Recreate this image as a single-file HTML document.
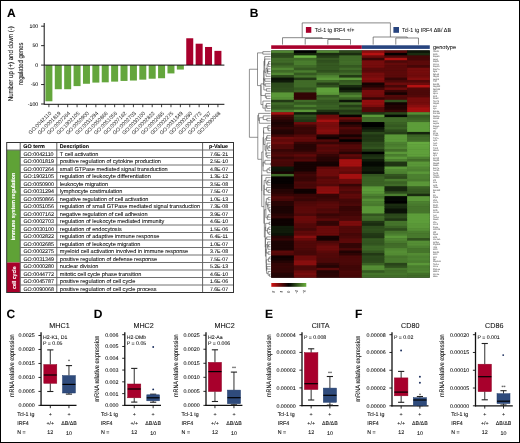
<!DOCTYPE html>
<html><head><meta charset="utf-8"><style>
html,body{margin:0;padding:0;background:#fff;}
#f{position:relative;width:520px;height:443px;overflow:hidden;background:#fff;}
#f svg{position:absolute;left:0;top:0;will-change:transform;}
#bd{position:absolute;left:0;top:0;width:520px;height:443px;box-sizing:border-box;border:1px solid #000;}
text{font-family:"Liberation Sans", sans-serif;text-rendering:geometricPrecision;}
</style></head><body><div id="f">
<svg width="520" height="443" viewBox="0 0 520 443" font-family='"Liberation Sans", sans-serif'>
<text x="6.9" y="16.8" font-size="12" text-anchor="start" font-weight="700" fill="#000" stroke="#000" stroke-width="0.08" >A</text>
<text transform="translate(13.4,63.7) rotate(-90)" font-size="7.0" text-anchor="middle" font-weight="400" fill="#111" stroke="#111" stroke-width="0.08" textLength="75" lengthAdjust="spacingAndGlyphs">Number up (+) and down (-)</text>
<text transform="translate(22.9,63.7) rotate(-90)" font-size="7.0" text-anchor="middle" font-weight="400" fill="#111" stroke="#111" stroke-width="0.08" textLength="42.5" lengthAdjust="spacingAndGlyphs">regulated genes</text>
<text x="38.2" y="28" font-size="5.2" text-anchor="end" font-weight="400" fill="#111" stroke="#111" stroke-width="0.08" >100</text>
<line x1="41.1" y1="26.2" x2="44.2" y2="26.2" stroke="#111" stroke-width="0.9" />
<text x="38.2" y="47.45" font-size="5.2" text-anchor="end" font-weight="400" fill="#111" stroke="#111" stroke-width="0.08" >50</text>
<line x1="41.1" y1="45.65" x2="44.2" y2="45.65" stroke="#111" stroke-width="0.9" />
<text x="38.2" y="66.9" font-size="5.2" text-anchor="end" font-weight="400" fill="#111" stroke="#111" stroke-width="0.08" >0</text>
<line x1="41.1" y1="65.1" x2="44.2" y2="65.1" stroke="#111" stroke-width="0.9" />
<text x="38.2" y="86.35" font-size="5.2" text-anchor="end" font-weight="400" fill="#111" stroke="#111" stroke-width="0.08" >-50</text>
<line x1="41.1" y1="84.55" x2="44.2" y2="84.55" stroke="#111" stroke-width="0.9" />
<text x="38.2" y="105.8" font-size="5.2" text-anchor="end" font-weight="400" fill="#111" stroke="#111" stroke-width="0.08" >-100</text>
<line x1="41.1" y1="104" x2="44.2" y2="104" stroke="#111" stroke-width="0.9" />
<line x1="44.2" y1="23" x2="44.2" y2="104.6" stroke="#111" stroke-width="1.0" />
<rect x="45.4" y="65.1" width="7" height="36.18" fill="#64a63c" />
<line x1="48.9" y1="104.3" x2="48.9" y2="107.2" stroke="#111" stroke-width="0.8" />
<text transform="translate(51.8,113.6) rotate(-45)" font-size="5.3" text-anchor="end" fill="#111">GO:0042110</text>
<rect x="54.79" y="65.1" width="7" height="24.12" fill="#64a63c" />
<line x1="58.29" y1="104.3" x2="58.29" y2="107.2" stroke="#111" stroke-width="0.8" />
<text transform="translate(61.19,113.6) rotate(-45)" font-size="5.3" text-anchor="end" fill="#111">GO:0001819</text>
<rect x="64.18" y="65.1" width="7" height="24.12" fill="#64a63c" />
<line x1="67.68" y1="104.3" x2="67.68" y2="107.2" stroke="#111" stroke-width="0.8" />
<text transform="translate(70.58,113.6) rotate(-45)" font-size="5.3" text-anchor="end" fill="#111">GO:0007264</text>
<rect x="73.57" y="65.1" width="7" height="21.01" fill="#64a63c" />
<line x1="77.07" y1="104.3" x2="77.07" y2="107.2" stroke="#111" stroke-width="0.8" />
<text transform="translate(79.97,113.6) rotate(-45)" font-size="5.3" text-anchor="end" fill="#111">GO:1902105</text>
<rect x="82.96" y="65.1" width="7" height="18.67" fill="#64a63c" />
<line x1="86.46" y1="104.3" x2="86.46" y2="107.2" stroke="#111" stroke-width="0.8" />
<text transform="translate(89.36,113.6) rotate(-45)" font-size="5.3" text-anchor="end" fill="#111">GO:0050900</text>
<rect x="92.35" y="65.1" width="7" height="17.5" fill="#64a63c" />
<line x1="95.85" y1="104.3" x2="95.85" y2="107.2" stroke="#111" stroke-width="0.8" />
<text transform="translate(98.75,113.6) rotate(-45)" font-size="5.3" text-anchor="end" fill="#111">GO:0031294</text>
<rect x="101.74" y="65.1" width="7" height="17.23" fill="#64a63c" />
<line x1="105.24" y1="104.3" x2="105.24" y2="107.2" stroke="#111" stroke-width="0.8" />
<text transform="translate(108.14,113.6) rotate(-45)" font-size="5.3" text-anchor="end" fill="#111">GO:0050866</text>
<rect x="111.13" y="65.1" width="7" height="16.53" fill="#64a63c" />
<line x1="114.63" y1="104.3" x2="114.63" y2="107.2" stroke="#111" stroke-width="0.8" />
<text transform="translate(117.53,113.6) rotate(-45)" font-size="5.3" text-anchor="end" fill="#111">GO:0051056</text>
<rect x="120.52" y="65.1" width="7" height="15.83" fill="#64a63c" />
<line x1="124.02" y1="104.3" x2="124.02" y2="107.2" stroke="#111" stroke-width="0.8" />
<text transform="translate(126.92,113.6) rotate(-45)" font-size="5.3" text-anchor="end" fill="#111">GO:0007162</text>
<rect x="129.91" y="65.1" width="7" height="15.44" fill="#64a63c" />
<line x1="133.41" y1="104.3" x2="133.41" y2="107.2" stroke="#111" stroke-width="0.8" />
<text transform="translate(136.31,113.6) rotate(-45)" font-size="5.3" text-anchor="end" fill="#111">GO:0002703</text>
<rect x="139.3" y="65.1" width="7" height="14.55" fill="#64a63c" />
<line x1="142.8" y1="104.3" x2="142.8" y2="107.2" stroke="#111" stroke-width="0.8" />
<text transform="translate(145.7,113.6) rotate(-45)" font-size="5.3" text-anchor="end" fill="#111">GO:0030100</text>
<rect x="148.69" y="65.1" width="7" height="13.62" fill="#64a63c" />
<line x1="152.19" y1="104.3" x2="152.19" y2="107.2" stroke="#111" stroke-width="0.8" />
<text transform="translate(155.09,113.6) rotate(-45)" font-size="5.3" text-anchor="end" fill="#111">GO:0002822</text>
<rect x="158.08" y="65.1" width="7" height="13.15" fill="#64a63c" />
<line x1="161.58" y1="104.3" x2="161.58" y2="107.2" stroke="#111" stroke-width="0.8" />
<text transform="translate(164.48,113.6) rotate(-45)" font-size="5.3" text-anchor="end" fill="#111">GO:0002685</text>
<rect x="167.47" y="65.1" width="7" height="8.32" fill="#64a63c" />
<line x1="170.97" y1="104.3" x2="170.97" y2="107.2" stroke="#111" stroke-width="0.8" />
<text transform="translate(173.87,113.6) rotate(-45)" font-size="5.3" text-anchor="end" fill="#111">GO:0002275</text>
<rect x="176.86" y="65.1" width="7" height="4.47" fill="#64a63c" />
<line x1="180.36" y1="104.3" x2="180.36" y2="107.2" stroke="#111" stroke-width="0.8" />
<text transform="translate(183.26,113.6) rotate(-45)" font-size="5.3" text-anchor="end" fill="#111">GO:0031349</text>
<rect x="186.25" y="38.26" width="7" height="26.84" fill="#a8002c" />
<line x1="189.75" y1="104.3" x2="189.75" y2="107.2" stroke="#111" stroke-width="0.8" />
<text transform="translate(192.65,113.6) rotate(-45)" font-size="5.3" text-anchor="end" fill="#111">GO:0000280</text>
<rect x="195.64" y="43.7" width="7" height="21.39" fill="#a8002c" />
<line x1="199.14" y1="104.3" x2="199.14" y2="107.2" stroke="#111" stroke-width="0.8" />
<text transform="translate(202.04,113.6) rotate(-45)" font-size="5.3" text-anchor="end" fill="#111">GO:0044772</text>
<rect x="205.03" y="46.97" width="7" height="18.13" fill="#a8002c" />
<line x1="208.53" y1="104.3" x2="208.53" y2="107.2" stroke="#111" stroke-width="0.8" />
<text transform="translate(211.43,113.6) rotate(-45)" font-size="5.3" text-anchor="end" fill="#111">GO:0045787</text>
<rect x="214.42" y="50.86" width="7" height="14.24" fill="#a8002c" />
<line x1="217.92" y1="104.3" x2="217.92" y2="107.2" stroke="#111" stroke-width="0.8" />
<text transform="translate(220.82,113.6) rotate(-45)" font-size="5.3" text-anchor="end" fill="#111">GO:0090068</text>
<line x1="44.2" y1="65.1" x2="224.4" y2="65.1" stroke="#111" stroke-width="1.0" />
<line x1="44.2" y1="104.3" x2="224.4" y2="104.3" stroke="#111" stroke-width="1.0" />
<rect x="6.7" y="150" width="13.5" height="112.5" fill="#5fa236" />
<rect x="6.7" y="262.5" width="13.5" height="30" fill="#a8002a" />
<line x1="20.2" y1="150" x2="233.5" y2="150" stroke="#707070" stroke-width="1.0" />
<line x1="20.2" y1="157.5" x2="233.5" y2="157.5" stroke="#707070" stroke-width="1.0" />
<line x1="20.2" y1="165" x2="233.5" y2="165" stroke="#707070" stroke-width="1.0" />
<line x1="20.2" y1="172.5" x2="233.5" y2="172.5" stroke="#707070" stroke-width="1.0" />
<line x1="20.2" y1="180" x2="233.5" y2="180" stroke="#707070" stroke-width="1.0" />
<line x1="20.2" y1="187.5" x2="233.5" y2="187.5" stroke="#707070" stroke-width="1.0" />
<line x1="20.2" y1="195" x2="233.5" y2="195" stroke="#707070" stroke-width="1.0" />
<line x1="20.2" y1="202.5" x2="233.5" y2="202.5" stroke="#707070" stroke-width="1.0" />
<line x1="20.2" y1="210" x2="233.5" y2="210" stroke="#707070" stroke-width="1.0" />
<line x1="20.2" y1="217.5" x2="233.5" y2="217.5" stroke="#707070" stroke-width="1.0" />
<line x1="20.2" y1="225" x2="233.5" y2="225" stroke="#707070" stroke-width="1.0" />
<line x1="20.2" y1="232.5" x2="233.5" y2="232.5" stroke="#707070" stroke-width="1.0" />
<line x1="20.2" y1="240" x2="233.5" y2="240" stroke="#707070" stroke-width="1.0" />
<line x1="20.2" y1="247.5" x2="233.5" y2="247.5" stroke="#707070" stroke-width="1.0" />
<line x1="20.2" y1="255" x2="233.5" y2="255" stroke="#707070" stroke-width="1.0" />
<line x1="20.2" y1="262.5" x2="233.5" y2="262.5" stroke="#707070" stroke-width="1.0" />
<line x1="20.2" y1="270" x2="233.5" y2="270" stroke="#707070" stroke-width="1.0" />
<line x1="20.2" y1="277.5" x2="233.5" y2="277.5" stroke="#707070" stroke-width="1.0" />
<line x1="20.2" y1="285" x2="233.5" y2="285" stroke="#707070" stroke-width="1.0" />
<line x1="6.7" y1="150" x2="20.2" y2="150" stroke="#707070" stroke-width="1.0" />
<line x1="20.2" y1="142.5" x2="20.2" y2="292.5" stroke="#606060" stroke-width="1.0" />
<line x1="56.8" y1="142.5" x2="56.8" y2="292.5" stroke="#606060" stroke-width="1.0" />
<line x1="202.6" y1="142.5" x2="202.6" y2="292.5" stroke="#606060" stroke-width="1.0" />
<rect x="6.7" y="142.5" width="226.8" height="150" fill="none" stroke="#333" stroke-width="1"/>
<text x="23.3" y="147.6" font-size="5.4" text-anchor="start" font-weight="700" fill="#000" stroke="#000" stroke-width="0.08" >GO term</text>
<text x="59.8" y="147.6" font-size="5.3" text-anchor="start" font-weight="700" fill="#000" stroke="#000" stroke-width="0.08" >Description</text>
<text x="218.5" y="147.6" font-size="5.3" text-anchor="middle" font-weight="700" fill="#000" stroke="#000" stroke-width="0.08" >p-Value</text>
<text x="23.4" y="155.5" font-size="5.35" text-anchor="start" font-weight="400" fill="#111" stroke="#111" stroke-width="0.08" >GO:0042110</text>
<text x="59.8" y="155.5" font-size="5.6" text-anchor="start" font-weight="400" fill="#111" stroke="#111" stroke-width="0.08" >T cell activation</text>
<text x="219" y="155.5" font-size="5.2" text-anchor="middle" font-weight="400" fill="#111" stroke="#111" stroke-width="0.08" >7.6E-21</text>
<text x="23.4" y="163" font-size="5.35" text-anchor="start" font-weight="400" fill="#111" stroke="#111" stroke-width="0.08" >GO:0001819</text>
<text x="59.8" y="163" font-size="5.6" text-anchor="start" font-weight="400" fill="#111" stroke="#111" stroke-width="0.08" >positive regulation of cytokine production</text>
<text x="219" y="163" font-size="5.2" text-anchor="middle" font-weight="400" fill="#111" stroke="#111" stroke-width="0.08" >2.5E-10</text>
<text x="23.4" y="170.5" font-size="5.35" text-anchor="start" font-weight="400" fill="#111" stroke="#111" stroke-width="0.08" >GO:0007264</text>
<text x="59.8" y="170.5" font-size="5.6" text-anchor="start" font-weight="400" fill="#111" stroke="#111" stroke-width="0.08" >small GTPase mediated signal transduction</text>
<text x="219" y="170.5" font-size="5.2" text-anchor="middle" font-weight="400" fill="#111" stroke="#111" stroke-width="0.08" >4.8E-07</text>
<text x="23.4" y="178" font-size="5.35" text-anchor="start" font-weight="400" fill="#111" stroke="#111" stroke-width="0.08" >GO:1902105</text>
<text x="59.8" y="178" font-size="5.6" text-anchor="start" font-weight="400" fill="#111" stroke="#111" stroke-width="0.08" >regulation of leukocyte differentiation</text>
<text x="219" y="178" font-size="5.2" text-anchor="middle" font-weight="400" fill="#111" stroke="#111" stroke-width="0.08" >1.3E-12</text>
<text x="23.4" y="185.5" font-size="5.35" text-anchor="start" font-weight="400" fill="#111" stroke="#111" stroke-width="0.08" >GO:0050900</text>
<text x="59.8" y="185.5" font-size="5.6" text-anchor="start" font-weight="400" fill="#111" stroke="#111" stroke-width="0.08" >leukocyte migration</text>
<text x="219" y="185.5" font-size="5.2" text-anchor="middle" font-weight="400" fill="#111" stroke="#111" stroke-width="0.08" >3.5E-08</text>
<text x="23.4" y="193" font-size="5.35" text-anchor="start" font-weight="400" fill="#111" stroke="#111" stroke-width="0.08" >GO:0031294</text>
<text x="59.8" y="193" font-size="5.6" text-anchor="start" font-weight="400" fill="#111" stroke="#111" stroke-width="0.08" >lymphocyte costimulation</text>
<text x="219" y="193" font-size="5.2" text-anchor="middle" font-weight="400" fill="#111" stroke="#111" stroke-width="0.08" >7.5E-07</text>
<text x="23.4" y="200.5" font-size="5.35" text-anchor="start" font-weight="400" fill="#111" stroke="#111" stroke-width="0.08" >GO:0050866</text>
<text x="59.8" y="200.5" font-size="5.6" text-anchor="start" font-weight="400" fill="#111" stroke="#111" stroke-width="0.08" >negative regulation of cell activation</text>
<text x="219" y="200.5" font-size="5.2" text-anchor="middle" font-weight="400" fill="#111" stroke="#111" stroke-width="0.08" >1.0E-13</text>
<text x="23.4" y="208" font-size="5.35" text-anchor="start" font-weight="400" fill="#111" stroke="#111" stroke-width="0.08" >GO:0051056</text>
<text x="59.8" y="208" font-size="5.6" text-anchor="start" font-weight="400" fill="#111" stroke="#111" stroke-width="0.08" >regulation of small GTPase mediated signal transduction</text>
<text x="219" y="208" font-size="5.2" text-anchor="middle" font-weight="400" fill="#111" stroke="#111" stroke-width="0.08" >7.3E-08</text>
<text x="23.4" y="215.5" font-size="5.35" text-anchor="start" font-weight="400" fill="#111" stroke="#111" stroke-width="0.08" >GO:0007162</text>
<text x="59.8" y="215.5" font-size="5.6" text-anchor="start" font-weight="400" fill="#111" stroke="#111" stroke-width="0.08" >negative regulation of cell adhesion</text>
<text x="219" y="215.5" font-size="5.2" text-anchor="middle" font-weight="400" fill="#111" stroke="#111" stroke-width="0.08" >3.9E-07</text>
<text x="23.4" y="223" font-size="5.35" text-anchor="start" font-weight="400" fill="#111" stroke="#111" stroke-width="0.08" >GO:0002703</text>
<text x="59.8" y="223" font-size="5.6" text-anchor="start" font-weight="400" fill="#111" stroke="#111" stroke-width="0.08" >regulation of leukocyte mediated immunity</text>
<text x="219" y="223" font-size="5.2" text-anchor="middle" font-weight="400" fill="#111" stroke="#111" stroke-width="0.08" >4.6E-10</text>
<text x="23.4" y="230.5" font-size="5.35" text-anchor="start" font-weight="400" fill="#111" stroke="#111" stroke-width="0.08" >GO:0030100</text>
<text x="59.8" y="230.5" font-size="5.6" text-anchor="start" font-weight="400" fill="#111" stroke="#111" stroke-width="0.08" >regulation of endocytosis</text>
<text x="219" y="230.5" font-size="5.2" text-anchor="middle" font-weight="400" fill="#111" stroke="#111" stroke-width="0.08" >1.5E-06</text>
<text x="23.4" y="238" font-size="5.35" text-anchor="start" font-weight="400" fill="#111" stroke="#111" stroke-width="0.08" >GO:0002822</text>
<text x="59.8" y="238" font-size="5.6" text-anchor="start" font-weight="400" fill="#111" stroke="#111" stroke-width="0.08" >regulation of adaptive immune response</text>
<text x="219" y="238" font-size="5.2" text-anchor="middle" font-weight="400" fill="#111" stroke="#111" stroke-width="0.08" >6.4E-11</text>
<text x="23.4" y="245.5" font-size="5.35" text-anchor="start" font-weight="400" fill="#111" stroke="#111" stroke-width="0.08" >GO:0002685</text>
<text x="59.8" y="245.5" font-size="5.6" text-anchor="start" font-weight="400" fill="#111" stroke="#111" stroke-width="0.08" >regulation of leukocyte migration</text>
<text x="219" y="245.5" font-size="5.2" text-anchor="middle" font-weight="400" fill="#111" stroke="#111" stroke-width="0.08" >1.0E-07</text>
<text x="23.4" y="253" font-size="5.35" text-anchor="start" font-weight="400" fill="#111" stroke="#111" stroke-width="0.08" >GO:0002275</text>
<text x="59.8" y="253" font-size="5.6" text-anchor="start" font-weight="400" fill="#111" stroke="#111" stroke-width="0.08" >myeloid cell activation involved in immune response</text>
<text x="219" y="253" font-size="5.2" text-anchor="middle" font-weight="400" fill="#111" stroke="#111" stroke-width="0.08" >3.7E-08</text>
<text x="23.4" y="260.5" font-size="5.35" text-anchor="start" font-weight="400" fill="#111" stroke="#111" stroke-width="0.08" >GO:0031349</text>
<text x="59.8" y="260.5" font-size="5.6" text-anchor="start" font-weight="400" fill="#111" stroke="#111" stroke-width="0.08" >positive regulation of defense response</text>
<text x="219" y="260.5" font-size="5.2" text-anchor="middle" font-weight="400" fill="#111" stroke="#111" stroke-width="0.08" >7.5E-07</text>
<text x="23.4" y="268" font-size="5.35" text-anchor="start" font-weight="400" fill="#111" stroke="#111" stroke-width="0.08" >GO:0000280</text>
<text x="59.8" y="268" font-size="5.6" text-anchor="start" font-weight="400" fill="#111" stroke="#111" stroke-width="0.08" >nuclear division</text>
<text x="219" y="268" font-size="5.2" text-anchor="middle" font-weight="400" fill="#111" stroke="#111" stroke-width="0.08" >5.2E-13</text>
<text x="23.4" y="275.5" font-size="5.35" text-anchor="start" font-weight="400" fill="#111" stroke="#111" stroke-width="0.08" >GO:0044772</text>
<text x="59.8" y="275.5" font-size="5.6" text-anchor="start" font-weight="400" fill="#111" stroke="#111" stroke-width="0.08" >mitotic cell cycle phase transition</text>
<text x="219" y="275.5" font-size="5.2" text-anchor="middle" font-weight="400" fill="#111" stroke="#111" stroke-width="0.08" >4.6E-10</text>
<text x="23.4" y="283" font-size="5.35" text-anchor="start" font-weight="400" fill="#111" stroke="#111" stroke-width="0.08" >GO:0045787</text>
<text x="59.8" y="283" font-size="5.6" text-anchor="start" font-weight="400" fill="#111" stroke="#111" stroke-width="0.08" >positive regulation of cell cycle</text>
<text x="219" y="283" font-size="5.2" text-anchor="middle" font-weight="400" fill="#111" stroke="#111" stroke-width="0.08" >1.6E-06</text>
<text x="23.4" y="290.5" font-size="5.35" text-anchor="start" font-weight="400" fill="#111" stroke="#111" stroke-width="0.08" >GO:0090068</text>
<text x="59.8" y="290.5" font-size="5.6" text-anchor="start" font-weight="400" fill="#111" stroke="#111" stroke-width="0.08" >positive regulation of cell cycle process</text>
<text x="219" y="290.5" font-size="5.2" text-anchor="middle" font-weight="400" fill="#111" stroke="#111" stroke-width="0.08" >7.6E-07</text>
<text transform="translate(15.4,206.5) rotate(-90)" font-size="5.6" text-anchor="middle" font-weight="700" fill="#fff" stroke="#fff" stroke-width="0.08" textLength="67.7" lengthAdjust="spacingAndGlyphs">immune system regulation</text>
<text transform="translate(15.5,277.8) rotate(-90)" font-size="5.6" text-anchor="middle" font-weight="700" fill="#fff" stroke="#fff" stroke-width="0.08" textLength="22.6" lengthAdjust="spacingAndGlyphs">cell cycle</text>
<text x="249.8" y="16.8" font-size="12" text-anchor="start" font-weight="700" fill="#000" stroke="#000" stroke-width="0.08" >B</text>
<rect x="271.2" y="50.4" width="158.6" height="227.3" fill="#000" />
<rect x="271.2" y="50.4" width="23.26" height="3.07" fill="#508632" />
<rect x="271.2" y="52.87" width="23.26" height="3.07" fill="#2d4b1c" />
<rect x="271.2" y="55.34" width="23.26" height="3.07" fill="#2d4b1c" />
<rect x="271.2" y="57.81" width="23.26" height="3.07" fill="#406b28" />
<rect x="271.2" y="60.28" width="23.26" height="3.07" fill="#406b28" />
<rect x="271.2" y="62.75" width="23.26" height="3.07" fill="#355921" />
<rect x="271.2" y="65.22" width="23.26" height="3.07" fill="#406b28" />
<rect x="271.2" y="67.69" width="23.26" height="3.07" fill="#508632" />
<rect x="271.2" y="70.17" width="23.26" height="3.07" fill="#406b28" />
<rect x="271.2" y="72.64" width="23.26" height="3.07" fill="#508632" />
<rect x="271.2" y="75.11" width="23.26" height="3.07" fill="#2d4b1c" />
<rect x="271.2" y="77.58" width="23.26" height="3.07" fill="#0b1207" />
<rect x="271.2" y="80.05" width="23.26" height="3.07" fill="#101b0a" />
<rect x="271.2" y="82.52" width="23.26" height="3.07" fill="#2d4b1c" />
<rect x="271.2" y="84.99" width="23.26" height="3.07" fill="#2d4b1c" />
<rect x="271.2" y="87.46" width="23.26" height="3.07" fill="#30501e" />
<rect x="271.2" y="89.93" width="23.26" height="3.07" fill="#30501e" />
<rect x="271.2" y="92.4" width="23.26" height="3.07" fill="#5a9738" />
<rect x="271.2" y="94.87" width="23.26" height="3.07" fill="#5a9738" />
<rect x="271.2" y="97.34" width="23.26" height="3.07" fill="#558e35" />
<rect x="271.2" y="99.81" width="23.26" height="3.07" fill="#223915" />
<rect x="271.2" y="102.28" width="23.26" height="3.07" fill="#406b28" />
<rect x="271.2" y="104.75" width="23.26" height="3.07" fill="#355921" />
<rect x="271.2" y="107.22" width="23.26" height="3.07" fill="#355921" />
<rect x="271.2" y="109.7" width="23.26" height="3.07" fill="#4a7d2e" />
<rect x="271.2" y="112.17" width="23.26" height="3.07" fill="#a41010" />
<rect x="271.2" y="114.64" width="23.26" height="3.07" fill="#450707" />
<rect x="271.2" y="117.11" width="23.26" height="3.07" fill="#370505" />
<rect x="271.2" y="119.58" width="23.26" height="3.07" fill="#240404" />
<rect x="271.2" y="122.05" width="23.26" height="3.07" fill="#1b0303" />
<rect x="271.2" y="124.52" width="23.26" height="3.07" fill="#240404" />
<rect x="271.2" y="126.99" width="23.26" height="3.07" fill="#330505" />
<rect x="271.2" y="129.46" width="23.26" height="3.07" fill="#240404" />
<rect x="271.2" y="131.93" width="23.26" height="3.07" fill="#210303" />
<rect x="271.2" y="134.4" width="23.26" height="3.07" fill="#400606" />
<rect x="271.2" y="136.87" width="23.26" height="3.07" fill="#6d0b0b" />
<rect x="271.2" y="139.34" width="23.26" height="3.07" fill="#5f0909" />
<rect x="271.2" y="141.81" width="23.26" height="3.07" fill="#6d0b0b" />
<rect x="271.2" y="144.28" width="23.26" height="3.07" fill="#520808" />
<rect x="271.2" y="146.76" width="23.26" height="3.07" fill="#520808" />
<rect x="271.2" y="149.23" width="23.26" height="3.07" fill="#370505" />
<rect x="271.2" y="151.7" width="23.26" height="3.07" fill="#450707" />
<rect x="271.2" y="154.17" width="23.26" height="3.07" fill="#520808" />
<rect x="271.2" y="156.64" width="23.26" height="3.07" fill="#370505" />
<rect x="271.2" y="159.11" width="23.26" height="3.07" fill="#4c0808" />
<rect x="271.2" y="161.58" width="23.26" height="3.07" fill="#450707" />
<rect x="271.2" y="164.05" width="23.26" height="3.07" fill="#450707" />
<rect x="271.2" y="166.52" width="23.26" height="3.07" fill="#0d1508" />
<rect x="271.2" y="168.99" width="23.26" height="3.07" fill="#0b1207" />
<rect x="271.2" y="171.46" width="23.26" height="3.07" fill="#160202" />
<rect x="271.2" y="173.93" width="23.26" height="3.07" fill="#406b28" />
<rect x="271.2" y="176.4" width="23.26" height="3.07" fill="#050101" />
<rect x="271.2" y="178.87" width="23.26" height="3.07" fill="#050101" />
<rect x="271.2" y="181.34" width="23.26" height="3.07" fill="#050101" />
<rect x="271.2" y="183.82" width="23.26" height="3.07" fill="#0f0101" />
<rect x="271.2" y="186.29" width="23.26" height="3.07" fill="#120202" />
<rect x="271.2" y="188.76" width="23.26" height="3.07" fill="#240404" />
<rect x="271.2" y="191.23" width="23.26" height="3.07" fill="#280404" />
<rect x="271.2" y="193.7" width="23.26" height="3.07" fill="#370505" />
<rect x="271.2" y="196.17" width="23.26" height="3.07" fill="#520808" />
<rect x="271.2" y="198.64" width="23.26" height="3.07" fill="#450707" />
<rect x="271.2" y="201.11" width="23.26" height="3.07" fill="#280404" />
<rect x="271.2" y="203.58" width="23.26" height="3.07" fill="#280404" />
<rect x="271.2" y="206.05" width="23.26" height="3.07" fill="#1b0303" />
<rect x="271.2" y="208.52" width="23.26" height="3.07" fill="#1b0303" />
<rect x="271.2" y="210.99" width="23.26" height="3.07" fill="#1b0303" />
<rect x="271.2" y="213.46" width="23.26" height="3.07" fill="#280404" />
<rect x="271.2" y="215.93" width="23.26" height="3.07" fill="#330505" />
<rect x="271.2" y="218.4" width="23.26" height="3.07" fill="#0d0101" />
<rect x="271.2" y="220.88" width="23.26" height="3.07" fill="#0d0101" />
<rect x="271.2" y="223.35" width="23.26" height="3.07" fill="#0d0101" />
<rect x="271.2" y="225.82" width="23.26" height="3.07" fill="#101b0a" />
<rect x="271.2" y="228.29" width="23.26" height="3.07" fill="#101b0a" />
<rect x="271.2" y="230.76" width="23.26" height="3.07" fill="#101b0a" />
<rect x="271.2" y="233.23" width="23.26" height="3.07" fill="#0b1207" />
<rect x="271.2" y="235.7" width="23.26" height="3.07" fill="#240404" />
<rect x="271.2" y="238.17" width="23.26" height="3.07" fill="#330505" />
<rect x="271.2" y="240.64" width="23.26" height="3.07" fill="#1b0303" />
<rect x="271.2" y="243.11" width="23.26" height="3.07" fill="#1b0303" />
<rect x="271.2" y="245.58" width="23.26" height="3.07" fill="#1b0303" />
<rect x="271.2" y="248.05" width="23.26" height="3.07" fill="#1b0303" />
<rect x="271.2" y="250.52" width="23.26" height="3.07" fill="#5b0909" />
<rect x="271.2" y="252.99" width="23.26" height="3.07" fill="#520808" />
<rect x="271.2" y="255.46" width="23.26" height="3.07" fill="#0d0101" />
<rect x="271.2" y="257.93" width="23.26" height="3.07" fill="#120202" />
<rect x="271.2" y="260.41" width="23.26" height="3.07" fill="#240404" />
<rect x="271.2" y="262.88" width="23.26" height="3.07" fill="#330505" />
<rect x="271.2" y="265.35" width="23.26" height="3.07" fill="#370505" />
<rect x="271.2" y="267.82" width="23.26" height="3.07" fill="#330505" />
<rect x="271.2" y="270.29" width="23.26" height="3.07" fill="#330505" />
<rect x="271.2" y="272.76" width="23.26" height="3.07" fill="#240404" />
<rect x="271.2" y="275.23" width="23.26" height="2.47" fill="#240404" />
<rect x="293.86" y="50.4" width="23.26" height="3.07" fill="#000000" />
<rect x="293.86" y="52.87" width="23.26" height="3.07" fill="#15240d" />
<rect x="293.86" y="55.34" width="23.26" height="3.07" fill="#6ab242" />
<rect x="293.86" y="57.81" width="23.26" height="3.07" fill="#406b28" />
<rect x="293.86" y="60.28" width="23.26" height="3.07" fill="#4a7d2e" />
<rect x="293.86" y="62.75" width="23.26" height="3.07" fill="#4a7d2e" />
<rect x="293.86" y="65.22" width="23.26" height="3.07" fill="#406b28" />
<rect x="293.86" y="67.69" width="23.26" height="3.07" fill="#355921" />
<rect x="293.86" y="70.17" width="23.26" height="3.07" fill="#4a7d2e" />
<rect x="293.86" y="72.64" width="23.26" height="3.07" fill="#355921" />
<rect x="293.86" y="75.11" width="23.26" height="3.07" fill="#45742b" />
<rect x="293.86" y="77.58" width="23.26" height="3.07" fill="#223915" />
<rect x="293.86" y="80.05" width="23.26" height="3.07" fill="#406b28" />
<rect x="293.86" y="82.52" width="23.26" height="3.07" fill="#406b28" />
<rect x="293.86" y="84.99" width="23.26" height="3.07" fill="#406b28" />
<rect x="293.86" y="87.46" width="23.26" height="3.07" fill="#355921" />
<rect x="293.86" y="89.93" width="23.26" height="3.07" fill="#3a6224" />
<rect x="293.86" y="92.4" width="23.26" height="3.07" fill="#330505" />
<rect x="293.86" y="94.87" width="23.26" height="3.07" fill="#330505" />
<rect x="293.86" y="97.34" width="23.26" height="3.07" fill="#330505" />
<rect x="293.86" y="99.81" width="23.26" height="3.07" fill="#406b28" />
<rect x="293.86" y="102.28" width="23.26" height="3.07" fill="#355921" />
<rect x="293.86" y="104.75" width="23.26" height="3.07" fill="#4a7d2e" />
<rect x="293.86" y="107.22" width="23.26" height="3.07" fill="#355921" />
<rect x="293.86" y="109.7" width="23.26" height="3.07" fill="#5a9738" />
<rect x="293.86" y="112.17" width="23.26" height="3.07" fill="#101b0a" />
<rect x="293.86" y="114.64" width="23.26" height="3.07" fill="#30501e" />
<rect x="293.86" y="117.11" width="23.26" height="3.07" fill="#284419" />
<rect x="293.86" y="119.58" width="23.26" height="3.07" fill="#203514" />
<rect x="293.86" y="122.05" width="23.26" height="3.07" fill="#6d0b0b" />
<rect x="293.86" y="124.52" width="23.26" height="3.07" fill="#450707" />
<rect x="293.86" y="126.99" width="23.26" height="3.07" fill="#370505" />
<rect x="293.86" y="129.46" width="23.26" height="3.07" fill="#3a0606" />
<rect x="293.86" y="131.93" width="23.26" height="3.07" fill="#370505" />
<rect x="293.86" y="134.4" width="23.26" height="3.07" fill="#520808" />
<rect x="293.86" y="136.87" width="23.26" height="3.07" fill="#640a0a" />
<rect x="293.86" y="139.34" width="23.26" height="3.07" fill="#5f0909" />
<rect x="293.86" y="141.81" width="23.26" height="3.07" fill="#370505" />
<rect x="293.86" y="144.28" width="23.26" height="3.07" fill="#280404" />
<rect x="293.86" y="146.76" width="23.26" height="3.07" fill="#280404" />
<rect x="293.86" y="149.23" width="23.26" height="3.07" fill="#2e0404" />
<rect x="293.86" y="151.7" width="23.26" height="3.07" fill="#450707" />
<rect x="293.86" y="154.17" width="23.26" height="3.07" fill="#5f0909" />
<rect x="293.86" y="156.64" width="23.26" height="3.07" fill="#450707" />
<rect x="293.86" y="159.11" width="23.26" height="3.07" fill="#520808" />
<rect x="293.86" y="161.58" width="23.26" height="3.07" fill="#160202" />
<rect x="293.86" y="164.05" width="23.26" height="3.07" fill="#160202" />
<rect x="293.86" y="166.52" width="23.26" height="3.07" fill="#160202" />
<rect x="293.86" y="168.99" width="23.26" height="3.07" fill="#160202" />
<rect x="293.86" y="171.46" width="23.26" height="3.07" fill="#330505" />
<rect x="293.86" y="173.93" width="23.26" height="3.07" fill="#400606" />
<rect x="293.86" y="176.4" width="23.26" height="3.07" fill="#370505" />
<rect x="293.86" y="178.87" width="23.26" height="3.07" fill="#370505" />
<rect x="293.86" y="181.34" width="23.26" height="3.07" fill="#4c0808" />
<rect x="293.86" y="183.82" width="23.26" height="3.07" fill="#450707" />
<rect x="293.86" y="186.29" width="23.26" height="3.07" fill="#4c0808" />
<rect x="293.86" y="188.76" width="23.26" height="3.07" fill="#0f0101" />
<rect x="293.86" y="191.23" width="23.26" height="3.07" fill="#0f0101" />
<rect x="293.86" y="193.7" width="23.26" height="3.07" fill="#370505" />
<rect x="293.86" y="196.17" width="23.26" height="3.07" fill="#400606" />
<rect x="293.86" y="198.64" width="23.26" height="3.07" fill="#370505" />
<rect x="293.86" y="201.11" width="23.26" height="3.07" fill="#4c0808" />
<rect x="293.86" y="203.58" width="23.26" height="3.07" fill="#520808" />
<rect x="293.86" y="206.05" width="23.26" height="3.07" fill="#5b0909" />
<rect x="293.86" y="208.52" width="23.26" height="3.07" fill="#5b0909" />
<rect x="293.86" y="210.99" width="23.26" height="3.07" fill="#5b0909" />
<rect x="293.86" y="213.46" width="23.26" height="3.07" fill="#4c0808" />
<rect x="293.86" y="215.93" width="23.26" height="3.07" fill="#6a0a0a" />
<rect x="293.86" y="218.4" width="23.26" height="3.07" fill="#6a0a0a" />
<rect x="293.86" y="220.88" width="23.26" height="3.07" fill="#640a0a" />
<rect x="293.86" y="223.35" width="23.26" height="3.07" fill="#520808" />
<rect x="293.86" y="225.82" width="23.26" height="3.07" fill="#520808" />
<rect x="293.86" y="228.29" width="23.26" height="3.07" fill="#450707" />
<rect x="293.86" y="230.76" width="23.26" height="3.07" fill="#5f0909" />
<rect x="293.86" y="233.23" width="23.26" height="3.07" fill="#5f0909" />
<rect x="293.86" y="235.7" width="23.26" height="3.07" fill="#880e0e" />
<rect x="293.86" y="238.17" width="23.26" height="3.07" fill="#6a0a0a" />
<rect x="293.86" y="240.64" width="23.26" height="3.07" fill="#520808" />
<rect x="293.86" y="243.11" width="23.26" height="3.07" fill="#520808" />
<rect x="293.86" y="245.58" width="23.26" height="3.07" fill="#520808" />
<rect x="293.86" y="248.05" width="23.26" height="3.07" fill="#4c0808" />
<rect x="293.86" y="250.52" width="23.26" height="3.07" fill="#450707" />
<rect x="293.86" y="252.99" width="23.26" height="3.07" fill="#450707" />
<rect x="293.86" y="255.46" width="23.26" height="3.07" fill="#6d0b0b" />
<rect x="293.86" y="257.93" width="23.26" height="3.07" fill="#6d0b0b" />
<rect x="293.86" y="260.41" width="23.26" height="3.07" fill="#880e0e" />
<rect x="293.86" y="262.88" width="23.26" height="3.07" fill="#880e0e" />
<rect x="293.86" y="265.35" width="23.26" height="3.07" fill="#4c0808" />
<rect x="293.86" y="267.82" width="23.26" height="3.07" fill="#4c0808" />
<rect x="293.86" y="270.29" width="23.26" height="3.07" fill="#6a0a0a" />
<rect x="293.86" y="272.76" width="23.26" height="3.07" fill="#760c0c" />
<rect x="293.86" y="275.23" width="23.26" height="2.47" fill="#6d0b0b" />
<rect x="316.51" y="50.4" width="23.26" height="3.07" fill="#508632" />
<rect x="316.51" y="52.87" width="23.26" height="3.07" fill="#1a2c10" />
<rect x="316.51" y="55.34" width="23.26" height="3.07" fill="#253e17" />
<rect x="316.51" y="57.81" width="23.26" height="3.07" fill="#355921" />
<rect x="316.51" y="60.28" width="23.26" height="3.07" fill="#30501e" />
<rect x="316.51" y="62.75" width="23.26" height="3.07" fill="#355921" />
<rect x="316.51" y="65.22" width="23.26" height="3.07" fill="#355921" />
<rect x="316.51" y="67.69" width="23.26" height="3.07" fill="#355921" />
<rect x="316.51" y="70.17" width="23.26" height="3.07" fill="#30501e" />
<rect x="316.51" y="72.64" width="23.26" height="3.07" fill="#406b28" />
<rect x="316.51" y="75.11" width="23.26" height="3.07" fill="#508632" />
<rect x="316.51" y="77.58" width="23.26" height="3.07" fill="#5a9738" />
<rect x="316.51" y="80.05" width="23.26" height="3.07" fill="#406b28" />
<rect x="316.51" y="82.52" width="23.26" height="3.07" fill="#253e17" />
<rect x="316.51" y="84.99" width="23.26" height="3.07" fill="#30501e" />
<rect x="316.51" y="87.46" width="23.26" height="3.07" fill="#5fa03b" />
<rect x="316.51" y="89.93" width="23.26" height="3.07" fill="#5fa03b" />
<rect x="316.51" y="92.4" width="23.26" height="3.07" fill="#5a9738" />
<rect x="316.51" y="94.87" width="23.26" height="3.07" fill="#355921" />
<rect x="316.51" y="97.34" width="23.26" height="3.07" fill="#406b28" />
<rect x="316.51" y="99.81" width="23.26" height="3.07" fill="#355921" />
<rect x="316.51" y="102.28" width="23.26" height="3.07" fill="#355921" />
<rect x="316.51" y="104.75" width="23.26" height="3.07" fill="#3a6224" />
<rect x="316.51" y="107.22" width="23.26" height="3.07" fill="#3a6224" />
<rect x="316.51" y="109.7" width="23.26" height="3.07" fill="#203514" />
<rect x="316.51" y="112.17" width="23.26" height="3.07" fill="#0d1508" />
<rect x="316.51" y="114.64" width="23.26" height="3.07" fill="#6d0b0b" />
<rect x="316.51" y="117.11" width="23.26" height="3.07" fill="#760c0c" />
<rect x="316.51" y="119.58" width="23.26" height="3.07" fill="#a41010" />
<rect x="316.51" y="122.05" width="23.26" height="3.07" fill="#7c0c0c" />
<rect x="316.51" y="124.52" width="23.26" height="3.07" fill="#760c0c" />
<rect x="316.51" y="126.99" width="23.26" height="3.07" fill="#7c0c0c" />
<rect x="316.51" y="129.46" width="23.26" height="3.07" fill="#880e0e" />
<rect x="316.51" y="131.93" width="23.26" height="3.07" fill="#7f0d0d" />
<rect x="316.51" y="134.4" width="23.26" height="3.07" fill="#240404" />
<rect x="316.51" y="136.87" width="23.26" height="3.07" fill="#0f0101" />
<rect x="316.51" y="139.34" width="23.26" height="3.07" fill="#520808" />
<rect x="316.51" y="141.81" width="23.26" height="3.07" fill="#370505" />
<rect x="316.51" y="144.28" width="23.26" height="3.07" fill="#5f0909" />
<rect x="316.51" y="146.76" width="23.26" height="3.07" fill="#520808" />
<rect x="316.51" y="149.23" width="23.26" height="3.07" fill="#5b0909" />
<rect x="316.51" y="151.7" width="23.26" height="3.07" fill="#4c0808" />
<rect x="316.51" y="154.17" width="23.26" height="3.07" fill="#370505" />
<rect x="316.51" y="156.64" width="23.26" height="3.07" fill="#280404" />
<rect x="316.51" y="159.11" width="23.26" height="3.07" fill="#280404" />
<rect x="316.51" y="161.58" width="23.26" height="3.07" fill="#160202" />
<rect x="316.51" y="164.05" width="23.26" height="3.07" fill="#160202" />
<rect x="316.51" y="166.52" width="23.26" height="3.07" fill="#5f0909" />
<rect x="316.51" y="168.99" width="23.26" height="3.07" fill="#6d0b0b" />
<rect x="316.51" y="171.46" width="23.26" height="3.07" fill="#6d0b0b" />
<rect x="316.51" y="173.93" width="23.26" height="3.07" fill="#6d0b0b" />
<rect x="316.51" y="176.4" width="23.26" height="3.07" fill="#520808" />
<rect x="316.51" y="178.87" width="23.26" height="3.07" fill="#5f0909" />
<rect x="316.51" y="181.34" width="23.26" height="3.07" fill="#5f0909" />
<rect x="316.51" y="183.82" width="23.26" height="3.07" fill="#520808" />
<rect x="316.51" y="186.29" width="23.26" height="3.07" fill="#880e0e" />
<rect x="316.51" y="188.76" width="23.26" height="3.07" fill="#880e0e" />
<rect x="316.51" y="191.23" width="23.26" height="3.07" fill="#920e0e" />
<rect x="316.51" y="193.7" width="23.26" height="3.07" fill="#370505" />
<rect x="316.51" y="196.17" width="23.26" height="3.07" fill="#370505" />
<rect x="316.51" y="198.64" width="23.26" height="3.07" fill="#400606" />
<rect x="316.51" y="201.11" width="23.26" height="3.07" fill="#520808" />
<rect x="316.51" y="203.58" width="23.26" height="3.07" fill="#5b0909" />
<rect x="316.51" y="206.05" width="23.26" height="3.07" fill="#5b0909" />
<rect x="316.51" y="208.52" width="23.26" height="3.07" fill="#4c0808" />
<rect x="316.51" y="210.99" width="23.26" height="3.07" fill="#520808" />
<rect x="316.51" y="213.46" width="23.26" height="3.07" fill="#370505" />
<rect x="316.51" y="215.93" width="23.26" height="3.07" fill="#450707" />
<rect x="316.51" y="218.4" width="23.26" height="3.07" fill="#5b0909" />
<rect x="316.51" y="220.88" width="23.26" height="3.07" fill="#330505" />
<rect x="316.51" y="223.35" width="23.26" height="3.07" fill="#330505" />
<rect x="316.51" y="225.82" width="23.26" height="3.07" fill="#6a0a0a" />
<rect x="316.51" y="228.29" width="23.26" height="3.07" fill="#6a0a0a" />
<rect x="316.51" y="230.76" width="23.26" height="3.07" fill="#6a0a0a" />
<rect x="316.51" y="233.23" width="23.26" height="3.07" fill="#6a0a0a" />
<rect x="316.51" y="235.7" width="23.26" height="3.07" fill="#160202" />
<rect x="316.51" y="238.17" width="23.26" height="3.07" fill="#160202" />
<rect x="316.51" y="240.64" width="23.26" height="3.07" fill="#4c0808" />
<rect x="316.51" y="243.11" width="23.26" height="3.07" fill="#5b0909" />
<rect x="316.51" y="245.58" width="23.26" height="3.07" fill="#6d0b0b" />
<rect x="316.51" y="248.05" width="23.26" height="3.07" fill="#6d0b0b" />
<rect x="316.51" y="250.52" width="23.26" height="3.07" fill="#5b0909" />
<rect x="316.51" y="252.99" width="23.26" height="3.07" fill="#520808" />
<rect x="316.51" y="255.46" width="23.26" height="3.07" fill="#520808" />
<rect x="316.51" y="257.93" width="23.26" height="3.07" fill="#4c0808" />
<rect x="316.51" y="260.41" width="23.26" height="3.07" fill="#4c0808" />
<rect x="316.51" y="262.88" width="23.26" height="3.07" fill="#330505" />
<rect x="316.51" y="265.35" width="23.26" height="3.07" fill="#240404" />
<rect x="316.51" y="267.82" width="23.26" height="3.07" fill="#5b0909" />
<rect x="316.51" y="270.29" width="23.26" height="3.07" fill="#240404" />
<rect x="316.51" y="272.76" width="23.26" height="3.07" fill="#280404" />
<rect x="316.51" y="275.23" width="23.26" height="2.47" fill="#2e0404" />
<rect x="339.17" y="50.4" width="23.26" height="3.07" fill="#2d4b1c" />
<rect x="339.17" y="52.87" width="23.26" height="3.07" fill="#1a2c10" />
<rect x="339.17" y="55.34" width="23.26" height="3.07" fill="#406b28" />
<rect x="339.17" y="57.81" width="23.26" height="3.07" fill="#406b28" />
<rect x="339.17" y="60.28" width="23.26" height="3.07" fill="#426e29" />
<rect x="339.17" y="62.75" width="23.26" height="3.07" fill="#406b28" />
<rect x="339.17" y="65.22" width="23.26" height="3.07" fill="#355921" />
<rect x="339.17" y="67.69" width="23.26" height="3.07" fill="#406b28" />
<rect x="339.17" y="70.17" width="23.26" height="3.07" fill="#355921" />
<rect x="339.17" y="72.64" width="23.26" height="3.07" fill="#406b28" />
<rect x="339.17" y="75.11" width="23.26" height="3.07" fill="#223915" />
<rect x="339.17" y="77.58" width="23.26" height="3.07" fill="#5a9738" />
<rect x="339.17" y="80.05" width="23.26" height="3.07" fill="#355921" />
<rect x="339.17" y="82.52" width="23.26" height="3.07" fill="#3a6224" />
<rect x="339.17" y="84.99" width="23.26" height="3.07" fill="#1a2c10" />
<rect x="339.17" y="87.46" width="23.26" height="3.07" fill="#0b1207" />
<rect x="339.17" y="89.93" width="23.26" height="3.07" fill="#15240d" />
<rect x="339.17" y="92.4" width="23.26" height="3.07" fill="#406b28" />
<rect x="339.17" y="94.87" width="23.26" height="3.07" fill="#508632" />
<rect x="339.17" y="97.34" width="23.26" height="3.07" fill="#3a6224" />
<rect x="339.17" y="99.81" width="23.26" height="3.07" fill="#0d1508" />
<rect x="339.17" y="102.28" width="23.26" height="3.07" fill="#406b28" />
<rect x="339.17" y="104.75" width="23.26" height="3.07" fill="#253e17" />
<rect x="339.17" y="107.22" width="23.26" height="3.07" fill="#355921" />
<rect x="339.17" y="109.7" width="23.26" height="3.07" fill="#223915" />
<rect x="339.17" y="112.17" width="23.26" height="3.07" fill="#2a471a" />
<rect x="339.17" y="114.64" width="23.26" height="3.07" fill="#090101" />
<rect x="339.17" y="117.11" width="23.26" height="3.07" fill="#6d0b0b" />
<rect x="339.17" y="119.58" width="23.26" height="3.07" fill="#450707" />
<rect x="339.17" y="122.05" width="23.26" height="3.07" fill="#160202" />
<rect x="339.17" y="124.52" width="23.26" height="3.07" fill="#330505" />
<rect x="339.17" y="126.99" width="23.26" height="3.07" fill="#520808" />
<rect x="339.17" y="129.46" width="23.26" height="3.07" fill="#400606" />
<rect x="339.17" y="131.93" width="23.26" height="3.07" fill="#400606" />
<rect x="339.17" y="134.4" width="23.26" height="3.07" fill="#160202" />
<rect x="339.17" y="136.87" width="23.26" height="3.07" fill="#370505" />
<rect x="339.17" y="139.34" width="23.26" height="3.07" fill="#000000" />
<rect x="339.17" y="141.81" width="23.26" height="3.07" fill="#370505" />
<rect x="339.17" y="144.28" width="23.26" height="3.07" fill="#520808" />
<rect x="339.17" y="146.76" width="23.26" height="3.07" fill="#520808" />
<rect x="339.17" y="149.23" width="23.26" height="3.07" fill="#450707" />
<rect x="339.17" y="151.7" width="23.26" height="3.07" fill="#280404" />
<rect x="339.17" y="154.17" width="23.26" height="3.07" fill="#5f0909" />
<rect x="339.17" y="156.64" width="23.26" height="3.07" fill="#4c0808" />
<rect x="339.17" y="159.11" width="23.26" height="3.07" fill="#a41010" />
<rect x="339.17" y="161.58" width="23.26" height="3.07" fill="#a41010" />
<rect x="339.17" y="164.05" width="23.26" height="3.07" fill="#a41010" />
<rect x="339.17" y="166.52" width="23.26" height="3.07" fill="#6d0b0b" />
<rect x="339.17" y="168.99" width="23.26" height="3.07" fill="#6d0b0b" />
<rect x="339.17" y="171.46" width="23.26" height="3.07" fill="#5f0909" />
<rect x="339.17" y="173.93" width="23.26" height="3.07" fill="#a41010" />
<rect x="339.17" y="176.4" width="23.26" height="3.07" fill="#a41010" />
<rect x="339.17" y="178.87" width="23.26" height="3.07" fill="#6d0b0b" />
<rect x="339.17" y="181.34" width="23.26" height="3.07" fill="#6d0b0b" />
<rect x="339.17" y="183.82" width="23.26" height="3.07" fill="#370505" />
<rect x="339.17" y="186.29" width="23.26" height="3.07" fill="#520808" />
<rect x="339.17" y="188.76" width="23.26" height="3.07" fill="#5b0909" />
<rect x="339.17" y="191.23" width="23.26" height="3.07" fill="#4c0808" />
<rect x="339.17" y="193.7" width="23.26" height="3.07" fill="#5f0909" />
<rect x="339.17" y="196.17" width="23.26" height="3.07" fill="#5f0909" />
<rect x="339.17" y="198.64" width="23.26" height="3.07" fill="#450707" />
<rect x="339.17" y="201.11" width="23.26" height="3.07" fill="#450707" />
<rect x="339.17" y="203.58" width="23.26" height="3.07" fill="#4c0808" />
<rect x="339.17" y="206.05" width="23.26" height="3.07" fill="#370505" />
<rect x="339.17" y="208.52" width="23.26" height="3.07" fill="#370505" />
<rect x="339.17" y="210.99" width="23.26" height="3.07" fill="#400606" />
<rect x="339.17" y="213.46" width="23.26" height="3.07" fill="#400606" />
<rect x="339.17" y="215.93" width="23.26" height="3.07" fill="#4c0808" />
<rect x="339.17" y="218.4" width="23.26" height="3.07" fill="#4c0808" />
<rect x="339.17" y="220.88" width="23.26" height="3.07" fill="#7c0c0c" />
<rect x="339.17" y="223.35" width="23.26" height="3.07" fill="#7c0c0c" />
<rect x="339.17" y="225.82" width="23.26" height="3.07" fill="#520808" />
<rect x="339.17" y="228.29" width="23.26" height="3.07" fill="#520808" />
<rect x="339.17" y="230.76" width="23.26" height="3.07" fill="#520808" />
<rect x="339.17" y="233.23" width="23.26" height="3.07" fill="#450707" />
<rect x="339.17" y="235.7" width="23.26" height="3.07" fill="#4c0808" />
<rect x="339.17" y="238.17" width="23.26" height="3.07" fill="#5b0909" />
<rect x="339.17" y="240.64" width="23.26" height="3.07" fill="#5b0909" />
<rect x="339.17" y="243.11" width="23.26" height="3.07" fill="#330505" />
<rect x="339.17" y="245.58" width="23.26" height="3.07" fill="#330505" />
<rect x="339.17" y="248.05" width="23.26" height="3.07" fill="#4c0808" />
<rect x="339.17" y="250.52" width="23.26" height="3.07" fill="#210303" />
<rect x="339.17" y="252.99" width="23.26" height="3.07" fill="#2e0404" />
<rect x="339.17" y="255.46" width="23.26" height="3.07" fill="#4c0808" />
<rect x="339.17" y="257.93" width="23.26" height="3.07" fill="#4c0808" />
<rect x="339.17" y="260.41" width="23.26" height="3.07" fill="#4c0808" />
<rect x="339.17" y="262.88" width="23.26" height="3.07" fill="#490707" />
<rect x="339.17" y="265.35" width="23.26" height="3.07" fill="#400606" />
<rect x="339.17" y="267.82" width="23.26" height="3.07" fill="#400606" />
<rect x="339.17" y="270.29" width="23.26" height="3.07" fill="#4c0808" />
<rect x="339.17" y="272.76" width="23.26" height="3.07" fill="#490707" />
<rect x="339.17" y="275.23" width="23.26" height="2.47" fill="#490707" />
<rect x="361.83" y="50.4" width="23.26" height="3.07" fill="#880e0e" />
<rect x="361.83" y="52.87" width="23.26" height="3.07" fill="#b61212" />
<rect x="361.83" y="55.34" width="23.26" height="3.07" fill="#6d0b0b" />
<rect x="361.83" y="57.81" width="23.26" height="3.07" fill="#370505" />
<rect x="361.83" y="60.28" width="23.26" height="3.07" fill="#760c0c" />
<rect x="361.83" y="62.75" width="23.26" height="3.07" fill="#760c0c" />
<rect x="361.83" y="65.22" width="23.26" height="3.07" fill="#760c0c" />
<rect x="361.83" y="67.69" width="23.26" height="3.07" fill="#5b0909" />
<rect x="361.83" y="70.17" width="23.26" height="3.07" fill="#5b0909" />
<rect x="361.83" y="72.64" width="23.26" height="3.07" fill="#760c0c" />
<rect x="361.83" y="75.11" width="23.26" height="3.07" fill="#760c0c" />
<rect x="361.83" y="77.58" width="23.26" height="3.07" fill="#830d0d" />
<rect x="361.83" y="80.05" width="23.26" height="3.07" fill="#760c0c" />
<rect x="361.83" y="82.52" width="23.26" height="3.07" fill="#160202" />
<rect x="361.83" y="84.99" width="23.26" height="3.07" fill="#210303" />
<rect x="361.83" y="87.46" width="23.26" height="3.07" fill="#450707" />
<rect x="361.83" y="89.93" width="23.26" height="3.07" fill="#760c0c" />
<rect x="361.83" y="92.4" width="23.26" height="3.07" fill="#760c0c" />
<rect x="361.83" y="94.87" width="23.26" height="3.07" fill="#6d0b0b" />
<rect x="361.83" y="97.34" width="23.26" height="3.07" fill="#370505" />
<rect x="361.83" y="99.81" width="23.26" height="3.07" fill="#920e0e" />
<rect x="361.83" y="102.28" width="23.26" height="3.07" fill="#920e0e" />
<rect x="361.83" y="104.75" width="23.26" height="3.07" fill="#7c0c0c" />
<rect x="361.83" y="107.22" width="23.26" height="3.07" fill="#520808" />
<rect x="361.83" y="109.7" width="23.26" height="3.07" fill="#520808" />
<rect x="361.83" y="112.17" width="23.26" height="3.07" fill="#203514" />
<rect x="361.83" y="114.64" width="23.26" height="3.07" fill="#5a9738" />
<rect x="361.83" y="117.11" width="23.26" height="3.07" fill="#406b28" />
<rect x="361.83" y="119.58" width="23.26" height="3.07" fill="#406b28" />
<rect x="361.83" y="122.05" width="23.26" height="3.07" fill="#000000" />
<rect x="361.83" y="124.52" width="23.26" height="3.07" fill="#000000" />
<rect x="361.83" y="126.99" width="23.26" height="3.07" fill="#0d1508" />
<rect x="361.83" y="129.46" width="23.26" height="3.07" fill="#17270f" />
<rect x="361.83" y="131.93" width="23.26" height="3.07" fill="#2a471a" />
<rect x="361.83" y="134.4" width="23.26" height="3.07" fill="#203514" />
<rect x="361.83" y="136.87" width="23.26" height="3.07" fill="#223915" />
<rect x="361.83" y="139.34" width="23.26" height="3.07" fill="#223915" />
<rect x="361.83" y="141.81" width="23.26" height="3.07" fill="#2d4b1c" />
<rect x="361.83" y="144.28" width="23.26" height="3.07" fill="#2d4b1c" />
<rect x="361.83" y="146.76" width="23.26" height="3.07" fill="#335520" />
<rect x="361.83" y="149.23" width="23.26" height="3.07" fill="#223915" />
<rect x="361.83" y="151.7" width="23.26" height="3.07" fill="#000000" />
<rect x="361.83" y="154.17" width="23.26" height="3.07" fill="#1a2c10" />
<rect x="361.83" y="156.64" width="23.26" height="3.07" fill="#203514" />
<rect x="361.83" y="159.11" width="23.26" height="3.07" fill="#101b0a" />
<rect x="361.83" y="161.58" width="23.26" height="3.07" fill="#050903" />
<rect x="361.83" y="164.05" width="23.26" height="3.07" fill="#050903" />
<rect x="361.83" y="166.52" width="23.26" height="3.07" fill="#101b0a" />
<rect x="361.83" y="168.99" width="23.26" height="3.07" fill="#101b0a" />
<rect x="361.83" y="171.46" width="23.26" height="3.07" fill="#080e05" />
<rect x="361.83" y="173.93" width="23.26" height="3.07" fill="#335520" />
<rect x="361.83" y="176.4" width="23.26" height="3.07" fill="#3a6224" />
<rect x="361.83" y="178.87" width="23.26" height="3.07" fill="#3a6224" />
<rect x="361.83" y="181.34" width="23.26" height="3.07" fill="#3a6224" />
<rect x="361.83" y="183.82" width="23.26" height="3.07" fill="#3a6224" />
<rect x="361.83" y="186.29" width="23.26" height="3.07" fill="#5a9738" />
<rect x="361.83" y="188.76" width="23.26" height="3.07" fill="#5d9d3a" />
<rect x="361.83" y="191.23" width="23.26" height="3.07" fill="#5a9738" />
<rect x="361.83" y="193.7" width="23.26" height="3.07" fill="#4c8030" />
<rect x="361.83" y="196.17" width="23.26" height="3.07" fill="#45742b" />
<rect x="361.83" y="198.64" width="23.26" height="3.07" fill="#558e35" />
<rect x="361.83" y="201.11" width="23.26" height="3.07" fill="#4c8030" />
<rect x="361.83" y="203.58" width="23.26" height="3.07" fill="#48792d" />
<rect x="361.83" y="206.05" width="23.26" height="3.07" fill="#5a9738" />
<rect x="361.83" y="208.52" width="23.26" height="3.07" fill="#5a9738" />
<rect x="361.83" y="210.99" width="23.26" height="3.07" fill="#5a9738" />
<rect x="361.83" y="213.46" width="23.26" height="3.07" fill="#335520" />
<rect x="361.83" y="215.93" width="23.26" height="3.07" fill="#406b28" />
<rect x="361.83" y="218.4" width="23.26" height="3.07" fill="#3d6726" />
<rect x="361.83" y="220.88" width="23.26" height="3.07" fill="#203514" />
<rect x="361.83" y="223.35" width="23.26" height="3.07" fill="#1a2c10" />
<rect x="361.83" y="225.82" width="23.26" height="3.07" fill="#2d4b1c" />
<rect x="361.83" y="228.29" width="23.26" height="3.07" fill="#30501e" />
<rect x="361.83" y="230.76" width="23.26" height="3.07" fill="#2d4b1c" />
<rect x="361.83" y="233.23" width="23.26" height="3.07" fill="#223915" />
<rect x="361.83" y="235.7" width="23.26" height="3.07" fill="#203514" />
<rect x="361.83" y="238.17" width="23.26" height="3.07" fill="#355921" />
<rect x="361.83" y="240.64" width="23.26" height="3.07" fill="#335520" />
<rect x="361.83" y="243.11" width="23.26" height="3.07" fill="#335520" />
<rect x="361.83" y="245.58" width="23.26" height="3.07" fill="#3d6726" />
<rect x="361.83" y="248.05" width="23.26" height="3.07" fill="#3d6726" />
<rect x="361.83" y="250.52" width="23.26" height="3.07" fill="#335520" />
<rect x="361.83" y="252.99" width="23.26" height="3.07" fill="#223915" />
<rect x="361.83" y="255.46" width="23.26" height="3.07" fill="#2d4b1c" />
<rect x="361.83" y="257.93" width="23.26" height="3.07" fill="#2b491b" />
<rect x="361.83" y="260.41" width="23.26" height="3.07" fill="#2d4b1c" />
<rect x="361.83" y="262.88" width="23.26" height="3.07" fill="#3a6224" />
<rect x="361.83" y="265.35" width="23.26" height="3.07" fill="#558e35" />
<rect x="361.83" y="267.82" width="23.26" height="3.07" fill="#538b33" />
<rect x="361.83" y="270.29" width="23.26" height="3.07" fill="#355921" />
<rect x="361.83" y="272.76" width="23.26" height="3.07" fill="#45742b" />
<rect x="361.83" y="275.23" width="23.26" height="2.47" fill="#426e29" />
<rect x="384.49" y="50.4" width="23.26" height="3.07" fill="#5b0909" />
<rect x="384.49" y="52.87" width="23.26" height="3.07" fill="#040000" />
<rect x="384.49" y="55.34" width="23.26" height="3.07" fill="#4c0808" />
<rect x="384.49" y="57.81" width="23.26" height="3.07" fill="#ad1111" />
<rect x="384.49" y="60.28" width="23.26" height="3.07" fill="#4c0808" />
<rect x="384.49" y="62.75" width="23.26" height="3.07" fill="#640a0a" />
<rect x="384.49" y="65.22" width="23.26" height="3.07" fill="#5b0909" />
<rect x="384.49" y="67.69" width="23.26" height="3.07" fill="#5b0909" />
<rect x="384.49" y="70.17" width="23.26" height="3.07" fill="#5b0909" />
<rect x="384.49" y="72.64" width="23.26" height="3.07" fill="#5b0909" />
<rect x="384.49" y="75.11" width="23.26" height="3.07" fill="#5b0909" />
<rect x="384.49" y="77.58" width="23.26" height="3.07" fill="#370505" />
<rect x="384.49" y="80.05" width="23.26" height="3.07" fill="#4c0808" />
<rect x="384.49" y="82.52" width="23.26" height="3.07" fill="#6d0b0b" />
<rect x="384.49" y="84.99" width="23.26" height="3.07" fill="#450707" />
<rect x="384.49" y="87.46" width="23.26" height="3.07" fill="#6d0b0b" />
<rect x="384.49" y="89.93" width="23.26" height="3.07" fill="#370505" />
<rect x="384.49" y="92.4" width="23.26" height="3.07" fill="#160202" />
<rect x="384.49" y="94.87" width="23.26" height="3.07" fill="#520808" />
<rect x="384.49" y="97.34" width="23.26" height="3.07" fill="#4c0808" />
<rect x="384.49" y="99.81" width="23.26" height="3.07" fill="#30501e" />
<rect x="384.49" y="102.28" width="23.26" height="3.07" fill="#120202" />
<rect x="384.49" y="104.75" width="23.26" height="3.07" fill="#210303" />
<rect x="384.49" y="107.22" width="23.26" height="3.07" fill="#210303" />
<rect x="384.49" y="109.7" width="23.26" height="3.07" fill="#370505" />
<rect x="384.49" y="112.17" width="23.26" height="3.07" fill="#2a471a" />
<rect x="384.49" y="114.64" width="23.26" height="3.07" fill="#050903" />
<rect x="384.49" y="117.11" width="23.26" height="3.07" fill="#406b28" />
<rect x="384.49" y="119.58" width="23.26" height="3.07" fill="#406b28" />
<rect x="384.49" y="122.05" width="23.26" height="3.07" fill="#3a6224" />
<rect x="384.49" y="124.52" width="23.26" height="3.07" fill="#355921" />
<rect x="384.49" y="126.99" width="23.26" height="3.07" fill="#3a6224" />
<rect x="384.49" y="129.46" width="23.26" height="3.07" fill="#2d4b1c" />
<rect x="384.49" y="131.93" width="23.26" height="3.07" fill="#253e17" />
<rect x="384.49" y="134.4" width="23.26" height="3.07" fill="#5a9738" />
<rect x="384.49" y="136.87" width="23.26" height="3.07" fill="#5a9738" />
<rect x="384.49" y="139.34" width="23.26" height="3.07" fill="#5a9738" />
<rect x="384.49" y="141.81" width="23.26" height="3.07" fill="#4c8030" />
<rect x="384.49" y="144.28" width="23.26" height="3.07" fill="#4a7d2e" />
<rect x="384.49" y="146.76" width="23.26" height="3.07" fill="#508632" />
<rect x="384.49" y="149.23" width="23.26" height="3.07" fill="#426e29" />
<rect x="384.49" y="151.7" width="23.26" height="3.07" fill="#5a9738" />
<rect x="384.49" y="154.17" width="23.26" height="3.07" fill="#4a7d2e" />
<rect x="384.49" y="156.64" width="23.26" height="3.07" fill="#5a9738" />
<rect x="384.49" y="159.11" width="23.26" height="3.07" fill="#4c8030" />
<rect x="384.49" y="161.58" width="23.26" height="3.07" fill="#203514" />
<rect x="384.49" y="164.05" width="23.26" height="3.07" fill="#203514" />
<rect x="384.49" y="166.52" width="23.26" height="3.07" fill="#5a9738" />
<rect x="384.49" y="168.99" width="23.26" height="3.07" fill="#508632" />
<rect x="384.49" y="171.46" width="23.26" height="3.07" fill="#4c8030" />
<rect x="384.49" y="173.93" width="23.26" height="3.07" fill="#335520" />
<rect x="384.49" y="176.4" width="23.26" height="3.07" fill="#2d4b1c" />
<rect x="384.49" y="178.87" width="23.26" height="3.07" fill="#48792d" />
<rect x="384.49" y="181.34" width="23.26" height="3.07" fill="#3a6224" />
<rect x="384.49" y="183.82" width="23.26" height="3.07" fill="#406b28" />
<rect x="384.49" y="186.29" width="23.26" height="3.07" fill="#17270f" />
<rect x="384.49" y="188.76" width="23.26" height="3.07" fill="#17270f" />
<rect x="384.49" y="191.23" width="23.26" height="3.07" fill="#2d4b1c" />
<rect x="384.49" y="193.7" width="23.26" height="3.07" fill="#4a7d2e" />
<rect x="384.49" y="196.17" width="23.26" height="3.07" fill="#040703" />
<rect x="384.49" y="198.64" width="23.26" height="3.07" fill="#040703" />
<rect x="384.49" y="201.11" width="23.26" height="3.07" fill="#000000" />
<rect x="384.49" y="203.58" width="23.26" height="3.07" fill="#1a2c10" />
<rect x="384.49" y="206.05" width="23.26" height="3.07" fill="#17270f" />
<rect x="384.49" y="208.52" width="23.26" height="3.07" fill="#0b1207" />
<rect x="384.49" y="210.99" width="23.26" height="3.07" fill="#0b1207" />
<rect x="384.49" y="213.46" width="23.26" height="3.07" fill="#2a471a" />
<rect x="384.49" y="215.93" width="23.26" height="3.07" fill="#2d4b1c" />
<rect x="384.49" y="218.4" width="23.26" height="3.07" fill="#203514" />
<rect x="384.49" y="220.88" width="23.26" height="3.07" fill="#45742b" />
<rect x="384.49" y="223.35" width="23.26" height="3.07" fill="#45742b" />
<rect x="384.49" y="225.82" width="23.26" height="3.07" fill="#3a6224" />
<rect x="384.49" y="228.29" width="23.26" height="3.07" fill="#2d4b1c" />
<rect x="384.49" y="230.76" width="23.26" height="3.07" fill="#45742b" />
<rect x="384.49" y="233.23" width="23.26" height="3.07" fill="#4c8030" />
<rect x="384.49" y="235.7" width="23.26" height="3.07" fill="#5a9738" />
<rect x="384.49" y="238.17" width="23.26" height="3.07" fill="#508632" />
<rect x="384.49" y="240.64" width="23.26" height="3.07" fill="#48792d" />
<rect x="384.49" y="243.11" width="23.26" height="3.07" fill="#406b28" />
<rect x="384.49" y="245.58" width="23.26" height="3.07" fill="#426e29" />
<rect x="384.49" y="248.05" width="23.26" height="3.07" fill="#508632" />
<rect x="384.49" y="250.52" width="23.26" height="3.07" fill="#558e35" />
<rect x="384.49" y="252.99" width="23.26" height="3.07" fill="#538b33" />
<rect x="384.49" y="255.46" width="23.26" height="3.07" fill="#45742b" />
<rect x="384.49" y="257.93" width="23.26" height="3.07" fill="#48792d" />
<rect x="384.49" y="260.41" width="23.26" height="3.07" fill="#48792d" />
<rect x="384.49" y="262.88" width="23.26" height="3.07" fill="#284419" />
<rect x="384.49" y="265.35" width="23.26" height="3.07" fill="#30501e" />
<rect x="384.49" y="267.82" width="23.26" height="3.07" fill="#45742b" />
<rect x="384.49" y="270.29" width="23.26" height="3.07" fill="#426e29" />
<rect x="384.49" y="272.76" width="23.26" height="3.07" fill="#45742b" />
<rect x="384.49" y="275.23" width="23.26" height="2.47" fill="#426e29" />
<rect x="407.14" y="50.4" width="22.66" height="3.07" fill="#0d1508" />
<rect x="407.14" y="52.87" width="22.66" height="3.07" fill="#1a2c10" />
<rect x="407.14" y="55.34" width="22.66" height="3.07" fill="#450707" />
<rect x="407.14" y="57.81" width="22.66" height="3.07" fill="#450707" />
<rect x="407.14" y="60.28" width="22.66" height="3.07" fill="#5b0909" />
<rect x="407.14" y="62.75" width="22.66" height="3.07" fill="#5b0909" />
<rect x="407.14" y="65.22" width="22.66" height="3.07" fill="#450707" />
<rect x="407.14" y="67.69" width="22.66" height="3.07" fill="#760c0c" />
<rect x="407.14" y="70.17" width="22.66" height="3.07" fill="#760c0c" />
<rect x="407.14" y="72.64" width="22.66" height="3.07" fill="#710b0b" />
<rect x="407.14" y="75.11" width="22.66" height="3.07" fill="#710b0b" />
<rect x="407.14" y="77.58" width="22.66" height="3.07" fill="#830d0d" />
<rect x="407.14" y="80.05" width="22.66" height="3.07" fill="#520808" />
<rect x="407.14" y="82.52" width="22.66" height="3.07" fill="#6d0b0b" />
<rect x="407.14" y="84.99" width="22.66" height="3.07" fill="#b61212" />
<rect x="407.14" y="87.46" width="22.66" height="3.07" fill="#520808" />
<rect x="407.14" y="89.93" width="22.66" height="3.07" fill="#4c0808" />
<rect x="407.14" y="92.4" width="22.66" height="3.07" fill="#4c0808" />
<rect x="407.14" y="94.87" width="22.66" height="3.07" fill="#520808" />
<rect x="407.14" y="97.34" width="22.66" height="3.07" fill="#760c0c" />
<rect x="407.14" y="99.81" width="22.66" height="3.07" fill="#760c0c" />
<rect x="407.14" y="102.28" width="22.66" height="3.07" fill="#760c0c" />
<rect x="407.14" y="104.75" width="22.66" height="3.07" fill="#880e0e" />
<rect x="407.14" y="107.22" width="22.66" height="3.07" fill="#a41010" />
<rect x="407.14" y="109.7" width="22.66" height="3.07" fill="#a41010" />
<rect x="407.14" y="112.17" width="22.66" height="3.07" fill="#558e35" />
<rect x="407.14" y="114.64" width="22.66" height="3.07" fill="#355921" />
<rect x="407.14" y="117.11" width="22.66" height="3.07" fill="#3a6224" />
<rect x="407.14" y="119.58" width="22.66" height="3.07" fill="#406b28" />
<rect x="407.14" y="122.05" width="22.66" height="3.07" fill="#5d9d3a" />
<rect x="407.14" y="124.52" width="22.66" height="3.07" fill="#5d9d3a" />
<rect x="407.14" y="126.99" width="22.66" height="3.07" fill="#5d9d3a" />
<rect x="407.14" y="129.46" width="22.66" height="3.07" fill="#5d9d3a" />
<rect x="407.14" y="131.93" width="22.66" height="3.07" fill="#15240d" />
<rect x="407.14" y="134.4" width="22.66" height="3.07" fill="#3a6224" />
<rect x="407.14" y="136.87" width="22.66" height="3.07" fill="#406b28" />
<rect x="407.14" y="139.34" width="22.66" height="3.07" fill="#426e29" />
<rect x="407.14" y="141.81" width="22.66" height="3.07" fill="#65a93f" />
<rect x="407.14" y="144.28" width="22.66" height="3.07" fill="#62a43d" />
<rect x="407.14" y="146.76" width="22.66" height="3.07" fill="#5fa03b" />
<rect x="407.14" y="149.23" width="22.66" height="3.07" fill="#5fa03b" />
<rect x="407.14" y="151.7" width="22.66" height="3.07" fill="#5fa03b" />
<rect x="407.14" y="154.17" width="22.66" height="3.07" fill="#5fa03b" />
<rect x="407.14" y="156.64" width="22.66" height="3.07" fill="#4c8030" />
<rect x="407.14" y="159.11" width="22.66" height="3.07" fill="#426e29" />
<rect x="407.14" y="161.58" width="22.66" height="3.07" fill="#5a9738" />
<rect x="407.14" y="164.05" width="22.66" height="3.07" fill="#5a9738" />
<rect x="407.14" y="166.52" width="22.66" height="3.07" fill="#508632" />
<rect x="407.14" y="168.99" width="22.66" height="3.07" fill="#4c8030" />
<rect x="407.14" y="171.46" width="22.66" height="3.07" fill="#5a9738" />
<rect x="407.14" y="173.93" width="22.66" height="3.07" fill="#4c8030" />
<rect x="407.14" y="176.4" width="22.66" height="3.07" fill="#4c8030" />
<rect x="407.14" y="178.87" width="22.66" height="3.07" fill="#48792d" />
<rect x="407.14" y="181.34" width="22.66" height="3.07" fill="#5a9738" />
<rect x="407.14" y="183.82" width="22.66" height="3.07" fill="#5a9738" />
<rect x="407.14" y="186.29" width="22.66" height="3.07" fill="#3a6224" />
<rect x="407.14" y="188.76" width="22.66" height="3.07" fill="#355921" />
<rect x="407.14" y="191.23" width="22.66" height="3.07" fill="#355921" />
<rect x="407.14" y="193.7" width="22.66" height="3.07" fill="#1a2c10" />
<rect x="407.14" y="196.17" width="22.66" height="3.07" fill="#5a9738" />
<rect x="407.14" y="198.64" width="22.66" height="3.07" fill="#5a9738" />
<rect x="407.14" y="201.11" width="22.66" height="3.07" fill="#4c8030" />
<rect x="407.14" y="203.58" width="22.66" height="3.07" fill="#48792d" />
<rect x="407.14" y="206.05" width="22.66" height="3.07" fill="#45742b" />
<rect x="407.14" y="208.52" width="22.66" height="3.07" fill="#45742b" />
<rect x="407.14" y="210.99" width="22.66" height="3.07" fill="#45742b" />
<rect x="407.14" y="213.46" width="22.66" height="3.07" fill="#5d9d3a" />
<rect x="407.14" y="215.93" width="22.66" height="3.07" fill="#5d9d3a" />
<rect x="407.14" y="218.4" width="22.66" height="3.07" fill="#5d9d3a" />
<rect x="407.14" y="220.88" width="22.66" height="3.07" fill="#5d9d3a" />
<rect x="407.14" y="223.35" width="22.66" height="3.07" fill="#5a9738" />
<rect x="407.14" y="225.82" width="22.66" height="3.07" fill="#5a9738" />
<rect x="407.14" y="228.29" width="22.66" height="3.07" fill="#558e35" />
<rect x="407.14" y="230.76" width="22.66" height="3.07" fill="#4a7d2e" />
<rect x="407.14" y="233.23" width="22.66" height="3.07" fill="#48792d" />
<rect x="407.14" y="235.7" width="22.66" height="3.07" fill="#48792d" />
<rect x="407.14" y="238.17" width="22.66" height="3.07" fill="#30501e" />
<rect x="407.14" y="240.64" width="22.66" height="3.07" fill="#558e35" />
<rect x="407.14" y="243.11" width="22.66" height="3.07" fill="#558e35" />
<rect x="407.14" y="245.58" width="22.66" height="3.07" fill="#4c8030" />
<rect x="407.14" y="248.05" width="22.66" height="3.07" fill="#45742b" />
<rect x="407.14" y="250.52" width="22.66" height="3.07" fill="#45742b" />
<rect x="407.14" y="252.99" width="22.66" height="3.07" fill="#538b33" />
<rect x="407.14" y="255.46" width="22.66" height="3.07" fill="#4c8030" />
<rect x="407.14" y="257.93" width="22.66" height="3.07" fill="#4e8431" />
<rect x="407.14" y="260.41" width="22.66" height="3.07" fill="#4a7d2e" />
<rect x="407.14" y="262.88" width="22.66" height="3.07" fill="#5a9738" />
<rect x="407.14" y="265.35" width="22.66" height="3.07" fill="#4a7d2e" />
<rect x="407.14" y="267.82" width="22.66" height="3.07" fill="#4c8030" />
<rect x="407.14" y="270.29" width="22.66" height="3.07" fill="#508632" />
<rect x="407.14" y="272.76" width="22.66" height="3.07" fill="#426e29" />
<rect x="407.14" y="275.23" width="22.66" height="2.47" fill="#406b28" />
<line x1="257.5" y1="52.87" x2="257.5" y2="85.6" stroke="#4a4a4a" stroke-width="0.6" />
<line x1="257.5" y1="52.87" x2="262.84" y2="52.87" stroke="#4a4a4a" stroke-width="0.6" />
<line x1="257.5" y1="85.6" x2="260.95" y2="85.6" stroke="#4a4a4a" stroke-width="0.6" />
<line x1="262.84" y1="51.64" x2="262.84" y2="54.11" stroke="#4a4a4a" stroke-width="0.6" />
<line x1="262.84" y1="51.64" x2="270.6" y2="51.64" stroke="#4a4a4a" stroke-width="0.6" />
<line x1="262.84" y1="54.11" x2="270.6" y2="54.11" stroke="#4a4a4a" stroke-width="0.6" />
<line x1="260.95" y1="85.6" x2="260.95" y2="104.6" stroke="#4a4a4a" stroke-width="0.6" />
<line x1="260.95" y1="89.67" x2="260.95" y2="89.67" stroke="#4a4a4a" stroke-width="0.6" />
<line x1="260.95" y1="104.6" x2="262.9" y2="104.6" stroke="#4a4a4a" stroke-width="0.6" />
<line x1="260.95" y1="83.86" x2="260.95" y2="95.49" stroke="#4a4a4a" stroke-width="0.6" />
<line x1="260.95" y1="83.86" x2="263.84" y2="83.86" stroke="#4a4a4a" stroke-width="0.6" />
<line x1="260.95" y1="95.49" x2="265.35" y2="95.49" stroke="#4a4a4a" stroke-width="0.6" />
<line x1="263.84" y1="77.79" x2="263.84" y2="89.93" stroke="#4a4a4a" stroke-width="0.6" />
<line x1="263.84" y1="77.79" x2="263.84" y2="77.79" stroke="#4a4a4a" stroke-width="0.6" />
<line x1="263.84" y1="89.93" x2="266.38" y2="89.93" stroke="#4a4a4a" stroke-width="0.6" />
<line x1="263.84" y1="70.59" x2="263.84" y2="84.99" stroke="#4a4a4a" stroke-width="0.6" />
<line x1="263.84" y1="70.59" x2="263.96" y2="70.59" stroke="#4a4a4a" stroke-width="0.6" />
<line x1="263.84" y1="84.99" x2="265.22" y2="84.99" stroke="#4a4a4a" stroke-width="0.6" />
<line x1="263.96" y1="61.13" x2="263.96" y2="80.05" stroke="#4a4a4a" stroke-width="0.6" />
<line x1="263.96" y1="61.13" x2="264.69" y2="61.13" stroke="#4a4a4a" stroke-width="0.6" />
<line x1="263.96" y1="80.05" x2="264.89" y2="80.05" stroke="#4a4a4a" stroke-width="0.6" />
<line x1="264.69" y1="56.58" x2="264.69" y2="65.69" stroke="#4a4a4a" stroke-width="0.6" />
<line x1="264.69" y1="56.58" x2="270.6" y2="56.58" stroke="#4a4a4a" stroke-width="0.6" />
<line x1="264.69" y1="65.69" x2="264.69" y2="65.69" stroke="#4a4a4a" stroke-width="0.6" />
<line x1="264.69" y1="59.05" x2="264.69" y2="72.33" stroke="#4a4a4a" stroke-width="0.6" />
<line x1="264.69" y1="59.05" x2="270.6" y2="59.05" stroke="#4a4a4a" stroke-width="0.6" />
<line x1="264.69" y1="72.33" x2="266.01" y2="72.33" stroke="#4a4a4a" stroke-width="0.6" />
<line x1="266.01" y1="68.31" x2="266.01" y2="76.34" stroke="#4a4a4a" stroke-width="0.6" />
<line x1="266.01" y1="68.31" x2="267.16" y2="68.31" stroke="#4a4a4a" stroke-width="0.6" />
<line x1="266.01" y1="76.34" x2="270.6" y2="76.34" stroke="#4a4a4a" stroke-width="0.6" />
<line x1="267.16" y1="64.61" x2="267.16" y2="72.02" stroke="#4a4a4a" stroke-width="0.6" />
<line x1="267.16" y1="64.61" x2="268.19" y2="64.61" stroke="#4a4a4a" stroke-width="0.6" />
<line x1="267.16" y1="72.02" x2="267.66" y2="72.02" stroke="#4a4a4a" stroke-width="0.6" />
<line x1="268.19" y1="62.75" x2="268.19" y2="66.46" stroke="#4a4a4a" stroke-width="0.6" />
<line x1="268.19" y1="62.75" x2="268.62" y2="62.75" stroke="#4a4a4a" stroke-width="0.6" />
<line x1="268.19" y1="66.46" x2="270.6" y2="66.46" stroke="#4a4a4a" stroke-width="0.6" />
<line x1="268.62" y1="61.52" x2="268.62" y2="63.99" stroke="#4a4a4a" stroke-width="0.6" />
<line x1="268.62" y1="61.52" x2="270.6" y2="61.52" stroke="#4a4a4a" stroke-width="0.6" />
<line x1="268.62" y1="63.99" x2="270.6" y2="63.99" stroke="#4a4a4a" stroke-width="0.6" />
<line x1="267.66" y1="70.17" x2="267.66" y2="73.87" stroke="#4a4a4a" stroke-width="0.6" />
<line x1="267.66" y1="70.17" x2="267.66" y2="70.17" stroke="#4a4a4a" stroke-width="0.6" />
<line x1="267.66" y1="73.87" x2="270.6" y2="73.87" stroke="#4a4a4a" stroke-width="0.6" />
<line x1="267.66" y1="68.93" x2="267.66" y2="71.4" stroke="#4a4a4a" stroke-width="0.6" />
<line x1="267.66" y1="68.93" x2="270.6" y2="68.93" stroke="#4a4a4a" stroke-width="0.6" />
<line x1="267.66" y1="71.4" x2="270.6" y2="71.4" stroke="#4a4a4a" stroke-width="0.6" />
<line x1="264.89" y1="78.81" x2="264.89" y2="81.28" stroke="#4a4a4a" stroke-width="0.6" />
<line x1="264.89" y1="78.81" x2="270.6" y2="78.81" stroke="#4a4a4a" stroke-width="0.6" />
<line x1="264.89" y1="81.28" x2="270.6" y2="81.28" stroke="#4a4a4a" stroke-width="0.6" />
<line x1="265.22" y1="83.75" x2="265.22" y2="86.22" stroke="#4a4a4a" stroke-width="0.6" />
<line x1="265.22" y1="83.75" x2="270.6" y2="83.75" stroke="#4a4a4a" stroke-width="0.6" />
<line x1="265.22" y1="86.22" x2="270.6" y2="86.22" stroke="#4a4a4a" stroke-width="0.6" />
<line x1="266.38" y1="88.7" x2="266.38" y2="91.17" stroke="#4a4a4a" stroke-width="0.6" />
<line x1="266.38" y1="88.7" x2="270.6" y2="88.7" stroke="#4a4a4a" stroke-width="0.6" />
<line x1="266.38" y1="91.17" x2="270.6" y2="91.17" stroke="#4a4a4a" stroke-width="0.6" />
<line x1="265.35" y1="93.64" x2="265.35" y2="97.34" stroke="#4a4a4a" stroke-width="0.6" />
<line x1="265.35" y1="93.64" x2="270.6" y2="93.64" stroke="#4a4a4a" stroke-width="0.6" />
<line x1="265.35" y1="97.34" x2="266.31" y2="97.34" stroke="#4a4a4a" stroke-width="0.6" />
<line x1="266.31" y1="96.11" x2="266.31" y2="98.58" stroke="#4a4a4a" stroke-width="0.6" />
<line x1="266.31" y1="96.11" x2="270.6" y2="96.11" stroke="#4a4a4a" stroke-width="0.6" />
<line x1="266.31" y1="98.58" x2="270.6" y2="98.58" stroke="#4a4a4a" stroke-width="0.6" />
<line x1="262.9" y1="101.05" x2="262.9" y2="108.15" stroke="#4a4a4a" stroke-width="0.6" />
<line x1="262.9" y1="101.05" x2="270.6" y2="101.05" stroke="#4a4a4a" stroke-width="0.6" />
<line x1="262.9" y1="108.15" x2="265.22" y2="108.15" stroke="#4a4a4a" stroke-width="0.6" />
<line x1="265.22" y1="105.37" x2="265.22" y2="110.93" stroke="#4a4a4a" stroke-width="0.6" />
<line x1="265.22" y1="105.37" x2="266.36" y2="105.37" stroke="#4a4a4a" stroke-width="0.6" />
<line x1="265.22" y1="110.93" x2="270.6" y2="110.93" stroke="#4a4a4a" stroke-width="0.6" />
<line x1="266.36" y1="103.52" x2="266.36" y2="107.22" stroke="#4a4a4a" stroke-width="0.6" />
<line x1="266.36" y1="103.52" x2="270.6" y2="103.52" stroke="#4a4a4a" stroke-width="0.6" />
<line x1="266.36" y1="107.22" x2="266.8" y2="107.22" stroke="#4a4a4a" stroke-width="0.6" />
<line x1="266.8" y1="105.99" x2="266.8" y2="108.46" stroke="#4a4a4a" stroke-width="0.6" />
<line x1="266.8" y1="105.99" x2="270.6" y2="105.99" stroke="#4a4a4a" stroke-width="0.6" />
<line x1="266.8" y1="108.46" x2="270.6" y2="108.46" stroke="#4a4a4a" stroke-width="0.6" />
<line x1="257.8" y1="115.3" x2="257.8" y2="159.3" stroke="#4a4a4a" stroke-width="0.6" />
<line x1="257.8" y1="115.3" x2="258.6" y2="115.3" stroke="#4a4a4a" stroke-width="0.6" />
<line x1="257.8" y1="159.3" x2="261.73" y2="159.3" stroke="#4a4a4a" stroke-width="0.6" />
<line x1="258.6" y1="113.4" x2="258.6" y2="120.5" stroke="#4a4a4a" stroke-width="0.6" />
<line x1="258.6" y1="113.4" x2="270.6" y2="113.4" stroke="#4a4a4a" stroke-width="0.6" />
<line x1="258.6" y1="120.5" x2="259.38" y2="120.5" stroke="#4a4a4a" stroke-width="0.6" />
<line x1="259.38" y1="117.73" x2="259.38" y2="123.28" stroke="#4a4a4a" stroke-width="0.6" />
<line x1="259.38" y1="117.73" x2="263.22" y2="117.73" stroke="#4a4a4a" stroke-width="0.6" />
<line x1="259.38" y1="123.28" x2="270.6" y2="123.28" stroke="#4a4a4a" stroke-width="0.6" />
<line x1="263.22" y1="115.87" x2="263.22" y2="119.58" stroke="#4a4a4a" stroke-width="0.6" />
<line x1="263.22" y1="115.87" x2="270.6" y2="115.87" stroke="#4a4a4a" stroke-width="0.6" />
<line x1="263.22" y1="119.58" x2="266.89" y2="119.58" stroke="#4a4a4a" stroke-width="0.6" />
<line x1="266.89" y1="118.34" x2="266.89" y2="120.81" stroke="#4a4a4a" stroke-width="0.6" />
<line x1="266.89" y1="118.34" x2="270.6" y2="118.34" stroke="#4a4a4a" stroke-width="0.6" />
<line x1="266.89" y1="120.81" x2="270.6" y2="120.81" stroke="#4a4a4a" stroke-width="0.6" />
<line x1="261.73" y1="151.99" x2="261.73" y2="190.92" stroke="#4a4a4a" stroke-width="0.6" />
<line x1="261.73" y1="151.99" x2="263.09" y2="151.99" stroke="#4a4a4a" stroke-width="0.6" />
<line x1="261.73" y1="190.92" x2="261.73" y2="190.92" stroke="#4a4a4a" stroke-width="0.6" />
<line x1="263.09" y1="137.45" x2="263.09" y2="166.52" stroke="#4a4a4a" stroke-width="0.6" />
<line x1="263.09" y1="137.45" x2="263.57" y2="137.45" stroke="#4a4a4a" stroke-width="0.6" />
<line x1="263.09" y1="166.52" x2="263.09" y2="166.52" stroke="#4a4a4a" stroke-width="0.6" />
<line x1="263.57" y1="130.39" x2="263.57" y2="144.52" stroke="#4a4a4a" stroke-width="0.6" />
<line x1="263.57" y1="130.39" x2="263.57" y2="130.39" stroke="#4a4a4a" stroke-width="0.6" />
<line x1="263.57" y1="144.52" x2="265.03" y2="144.52" stroke="#4a4a4a" stroke-width="0.6" />
<line x1="263.57" y1="127.61" x2="263.57" y2="133.17" stroke="#4a4a4a" stroke-width="0.6" />
<line x1="263.57" y1="127.61" x2="267.82" y2="127.61" stroke="#4a4a4a" stroke-width="0.6" />
<line x1="263.57" y1="133.17" x2="270.6" y2="133.17" stroke="#4a4a4a" stroke-width="0.6" />
<line x1="267.82" y1="125.75" x2="267.82" y2="129.46" stroke="#4a4a4a" stroke-width="0.6" />
<line x1="267.82" y1="125.75" x2="270.6" y2="125.75" stroke="#4a4a4a" stroke-width="0.6" />
<line x1="267.82" y1="129.46" x2="268.16" y2="129.46" stroke="#4a4a4a" stroke-width="0.6" />
<line x1="268.16" y1="128.23" x2="268.16" y2="130.7" stroke="#4a4a4a" stroke-width="0.6" />
<line x1="268.16" y1="128.23" x2="270.6" y2="128.23" stroke="#4a4a4a" stroke-width="0.6" />
<line x1="268.16" y1="130.7" x2="270.6" y2="130.7" stroke="#4a4a4a" stroke-width="0.6" />
<line x1="265.03" y1="138.73" x2="265.03" y2="150.31" stroke="#4a4a4a" stroke-width="0.6" />
<line x1="265.03" y1="138.73" x2="266.44" y2="138.73" stroke="#4a4a4a" stroke-width="0.6" />
<line x1="265.03" y1="150.31" x2="266.04" y2="150.31" stroke="#4a4a4a" stroke-width="0.6" />
<line x1="266.44" y1="136.87" x2="266.44" y2="140.58" stroke="#4a4a4a" stroke-width="0.6" />
<line x1="266.44" y1="136.87" x2="266.99" y2="136.87" stroke="#4a4a4a" stroke-width="0.6" />
<line x1="266.44" y1="140.58" x2="270.6" y2="140.58" stroke="#4a4a4a" stroke-width="0.6" />
<line x1="266.99" y1="135.64" x2="266.99" y2="138.11" stroke="#4a4a4a" stroke-width="0.6" />
<line x1="266.99" y1="135.64" x2="270.6" y2="135.64" stroke="#4a4a4a" stroke-width="0.6" />
<line x1="266.99" y1="138.11" x2="270.6" y2="138.11" stroke="#4a4a4a" stroke-width="0.6" />
<line x1="266.04" y1="145.83" x2="266.04" y2="154.79" stroke="#4a4a4a" stroke-width="0.6" />
<line x1="266.04" y1="145.83" x2="267.12" y2="145.83" stroke="#4a4a4a" stroke-width="0.6" />
<line x1="266.04" y1="154.79" x2="266.04" y2="154.79" stroke="#4a4a4a" stroke-width="0.6" />
<line x1="267.12" y1="143.05" x2="267.12" y2="148.61" stroke="#4a4a4a" stroke-width="0.6" />
<line x1="267.12" y1="143.05" x2="270.6" y2="143.05" stroke="#4a4a4a" stroke-width="0.6" />
<line x1="267.12" y1="148.61" x2="267.96" y2="148.61" stroke="#4a4a4a" stroke-width="0.6" />
<line x1="267.96" y1="146.76" x2="267.96" y2="150.46" stroke="#4a4a4a" stroke-width="0.6" />
<line x1="267.96" y1="146.76" x2="269.28" y2="146.76" stroke="#4a4a4a" stroke-width="0.6" />
<line x1="267.96" y1="150.46" x2="270.6" y2="150.46" stroke="#4a4a4a" stroke-width="0.6" />
<line x1="269.28" y1="145.52" x2="269.28" y2="147.99" stroke="#4a4a4a" stroke-width="0.6" />
<line x1="269.28" y1="145.52" x2="270.6" y2="145.52" stroke="#4a4a4a" stroke-width="0.6" />
<line x1="269.28" y1="147.99" x2="270.6" y2="147.99" stroke="#4a4a4a" stroke-width="0.6" />
<line x1="266.04" y1="152.93" x2="266.04" y2="156.64" stroke="#4a4a4a" stroke-width="0.6" />
<line x1="266.04" y1="152.93" x2="270.6" y2="152.93" stroke="#4a4a4a" stroke-width="0.6" />
<line x1="266.04" y1="156.64" x2="267.07" y2="156.64" stroke="#4a4a4a" stroke-width="0.6" />
<line x1="267.07" y1="155.4" x2="267.07" y2="157.87" stroke="#4a4a4a" stroke-width="0.6" />
<line x1="267.07" y1="155.4" x2="270.6" y2="155.4" stroke="#4a4a4a" stroke-width="0.6" />
<line x1="267.07" y1="157.87" x2="270.6" y2="157.87" stroke="#4a4a4a" stroke-width="0.6" />
<line x1="263.09" y1="162.2" x2="263.09" y2="170.84" stroke="#4a4a4a" stroke-width="0.6" />
<line x1="263.09" y1="162.2" x2="264.88" y2="162.2" stroke="#4a4a4a" stroke-width="0.6" />
<line x1="263.09" y1="170.84" x2="267.08" y2="170.84" stroke="#4a4a4a" stroke-width="0.6" />
<line x1="264.88" y1="160.34" x2="264.88" y2="164.05" stroke="#4a4a4a" stroke-width="0.6" />
<line x1="264.88" y1="160.34" x2="270.6" y2="160.34" stroke="#4a4a4a" stroke-width="0.6" />
<line x1="264.88" y1="164.05" x2="270.6" y2="164.05" stroke="#4a4a4a" stroke-width="0.6" />
<line x1="270.6" y1="162.81" x2="270.6" y2="165.29" stroke="#4a4a4a" stroke-width="0.6" />
<line x1="270.6" y1="162.81" x2="270.6" y2="162.81" stroke="#4a4a4a" stroke-width="0.6" />
<line x1="270.6" y1="165.29" x2="270.6" y2="165.29" stroke="#4a4a4a" stroke-width="0.6" />
<line x1="267.08" y1="168.99" x2="267.08" y2="172.7" stroke="#4a4a4a" stroke-width="0.6" />
<line x1="267.08" y1="168.99" x2="269.01" y2="168.99" stroke="#4a4a4a" stroke-width="0.6" />
<line x1="267.08" y1="172.7" x2="270.6" y2="172.7" stroke="#4a4a4a" stroke-width="0.6" />
<line x1="269.01" y1="167.76" x2="269.01" y2="170.23" stroke="#4a4a4a" stroke-width="0.6" />
<line x1="269.01" y1="167.76" x2="270.6" y2="167.76" stroke="#4a4a4a" stroke-width="0.6" />
<line x1="269.01" y1="170.23" x2="270.6" y2="170.23" stroke="#4a4a4a" stroke-width="0.6" />
<line x1="261.73" y1="175.17" x2="261.73" y2="206.67" stroke="#4a4a4a" stroke-width="0.6" />
<line x1="261.73" y1="175.17" x2="270.6" y2="175.17" stroke="#4a4a4a" stroke-width="0.6" />
<line x1="261.73" y1="206.67" x2="263.94" y2="206.67" stroke="#4a4a4a" stroke-width="0.6" />
<line x1="263.94" y1="189.91" x2="263.94" y2="223.42" stroke="#4a4a4a" stroke-width="0.6" />
<line x1="263.94" y1="189.91" x2="263.94" y2="189.91" stroke="#4a4a4a" stroke-width="0.6" />
<line x1="263.94" y1="223.42" x2="264.38" y2="223.42" stroke="#4a4a4a" stroke-width="0.6" />
<line x1="263.94" y1="184.9" x2="263.94" y2="194.93" stroke="#4a4a4a" stroke-width="0.6" />
<line x1="263.94" y1="184.9" x2="264.13" y2="184.9" stroke="#4a4a4a" stroke-width="0.6" />
<line x1="263.94" y1="194.93" x2="270.6" y2="194.93" stroke="#4a4a4a" stroke-width="0.6" />
<line x1="264.13" y1="180.42" x2="264.13" y2="189.37" stroke="#4a4a4a" stroke-width="0.6" />
<line x1="264.13" y1="180.42" x2="265.9" y2="180.42" stroke="#4a4a4a" stroke-width="0.6" />
<line x1="264.13" y1="189.37" x2="266.63" y2="189.37" stroke="#4a4a4a" stroke-width="0.6" />
<line x1="265.9" y1="177.64" x2="265.9" y2="183.2" stroke="#4a4a4a" stroke-width="0.6" />
<line x1="265.9" y1="177.64" x2="270.6" y2="177.64" stroke="#4a4a4a" stroke-width="0.6" />
<line x1="265.9" y1="183.2" x2="267.02" y2="183.2" stroke="#4a4a4a" stroke-width="0.6" />
<line x1="267.02" y1="181.34" x2="267.02" y2="185.05" stroke="#4a4a4a" stroke-width="0.6" />
<line x1="267.02" y1="181.34" x2="267.93" y2="181.34" stroke="#4a4a4a" stroke-width="0.6" />
<line x1="267.02" y1="185.05" x2="270.6" y2="185.05" stroke="#4a4a4a" stroke-width="0.6" />
<line x1="267.93" y1="180.11" x2="267.93" y2="182.58" stroke="#4a4a4a" stroke-width="0.6" />
<line x1="267.93" y1="180.11" x2="270.6" y2="180.11" stroke="#4a4a4a" stroke-width="0.6" />
<line x1="267.93" y1="182.58" x2="270.6" y2="182.58" stroke="#4a4a4a" stroke-width="0.6" />
<line x1="266.63" y1="187.52" x2="266.63" y2="191.23" stroke="#4a4a4a" stroke-width="0.6" />
<line x1="266.63" y1="187.52" x2="270.6" y2="187.52" stroke="#4a4a4a" stroke-width="0.6" />
<line x1="266.63" y1="191.23" x2="268.12" y2="191.23" stroke="#4a4a4a" stroke-width="0.6" />
<line x1="268.12" y1="189.99" x2="268.12" y2="192.46" stroke="#4a4a4a" stroke-width="0.6" />
<line x1="268.12" y1="189.99" x2="270.6" y2="189.99" stroke="#4a4a4a" stroke-width="0.6" />
<line x1="268.12" y1="192.46" x2="270.6" y2="192.46" stroke="#4a4a4a" stroke-width="0.6" />
<line x1="264.38" y1="209.72" x2="264.38" y2="237.12" stroke="#4a4a4a" stroke-width="0.6" />
<line x1="264.38" y1="209.72" x2="265.89" y2="209.72" stroke="#4a4a4a" stroke-width="0.6" />
<line x1="264.38" y1="237.12" x2="265.24" y2="237.12" stroke="#4a4a4a" stroke-width="0.6" />
<line x1="265.89" y1="201.65" x2="265.89" y2="217.79" stroke="#4a4a4a" stroke-width="0.6" />
<line x1="265.89" y1="201.65" x2="266.34" y2="201.65" stroke="#4a4a4a" stroke-width="0.6" />
<line x1="265.89" y1="217.79" x2="267.4" y2="217.79" stroke="#4a4a4a" stroke-width="0.6" />
<line x1="266.34" y1="198.64" x2="266.34" y2="204.66" stroke="#4a4a4a" stroke-width="0.6" />
<line x1="266.34" y1="198.64" x2="268.09" y2="198.64" stroke="#4a4a4a" stroke-width="0.6" />
<line x1="266.34" y1="204.66" x2="267.82" y2="204.66" stroke="#4a4a4a" stroke-width="0.6" />
<line x1="268.09" y1="197.4" x2="268.09" y2="199.87" stroke="#4a4a4a" stroke-width="0.6" />
<line x1="268.09" y1="197.4" x2="270.6" y2="197.4" stroke="#4a4a4a" stroke-width="0.6" />
<line x1="268.09" y1="199.87" x2="270.6" y2="199.87" stroke="#4a4a4a" stroke-width="0.6" />
<line x1="267.82" y1="202.35" x2="267.82" y2="206.98" stroke="#4a4a4a" stroke-width="0.6" />
<line x1="267.82" y1="202.35" x2="270.6" y2="202.35" stroke="#4a4a4a" stroke-width="0.6" />
<line x1="267.82" y1="206.98" x2="267.82" y2="206.98" stroke="#4a4a4a" stroke-width="0.6" />
<line x1="267.82" y1="204.82" x2="267.82" y2="209.14" stroke="#4a4a4a" stroke-width="0.6" />
<line x1="267.82" y1="204.82" x2="270.6" y2="204.82" stroke="#4a4a4a" stroke-width="0.6" />
<line x1="267.82" y1="209.14" x2="268.92" y2="209.14" stroke="#4a4a4a" stroke-width="0.6" />
<line x1="268.92" y1="207.29" x2="268.92" y2="210.99" stroke="#4a4a4a" stroke-width="0.6" />
<line x1="268.92" y1="207.29" x2="270.6" y2="207.29" stroke="#4a4a4a" stroke-width="0.6" />
<line x1="268.92" y1="210.99" x2="269.81" y2="210.99" stroke="#4a4a4a" stroke-width="0.6" />
<line x1="269.81" y1="209.76" x2="269.81" y2="212.23" stroke="#4a4a4a" stroke-width="0.6" />
<line x1="269.81" y1="209.76" x2="270.6" y2="209.76" stroke="#4a4a4a" stroke-width="0.6" />
<line x1="269.81" y1="212.23" x2="270.6" y2="212.23" stroke="#4a4a4a" stroke-width="0.6" />
<line x1="267.4" y1="215.93" x2="267.4" y2="219.64" stroke="#4a4a4a" stroke-width="0.6" />
<line x1="267.4" y1="215.93" x2="268.02" y2="215.93" stroke="#4a4a4a" stroke-width="0.6" />
<line x1="267.4" y1="219.64" x2="270.6" y2="219.64" stroke="#4a4a4a" stroke-width="0.6" />
<line x1="268.02" y1="214.7" x2="268.02" y2="217.17" stroke="#4a4a4a" stroke-width="0.6" />
<line x1="268.02" y1="214.7" x2="270.6" y2="214.7" stroke="#4a4a4a" stroke-width="0.6" />
<line x1="268.02" y1="217.17" x2="270.6" y2="217.17" stroke="#4a4a4a" stroke-width="0.6" />
<line x1="265.24" y1="227.05" x2="265.24" y2="247.18" stroke="#4a4a4a" stroke-width="0.6" />
<line x1="265.24" y1="227.05" x2="265.66" y2="227.05" stroke="#4a4a4a" stroke-width="0.6" />
<line x1="265.24" y1="247.18" x2="265.44" y2="247.18" stroke="#4a4a4a" stroke-width="0.6" />
<line x1="265.66" y1="223.35" x2="265.66" y2="230.76" stroke="#4a4a4a" stroke-width="0.6" />
<line x1="265.66" y1="223.35" x2="269.19" y2="223.35" stroke="#4a4a4a" stroke-width="0.6" />
<line x1="265.66" y1="230.76" x2="267.54" y2="230.76" stroke="#4a4a4a" stroke-width="0.6" />
<line x1="269.19" y1="222.11" x2="269.19" y2="224.58" stroke="#4a4a4a" stroke-width="0.6" />
<line x1="269.19" y1="222.11" x2="270.6" y2="222.11" stroke="#4a4a4a" stroke-width="0.6" />
<line x1="269.19" y1="224.58" x2="270.6" y2="224.58" stroke="#4a4a4a" stroke-width="0.6" />
<line x1="267.54" y1="228.29" x2="267.54" y2="233.23" stroke="#4a4a4a" stroke-width="0.6" />
<line x1="267.54" y1="228.29" x2="268.75" y2="228.29" stroke="#4a4a4a" stroke-width="0.6" />
<line x1="267.54" y1="233.23" x2="268.83" y2="233.23" stroke="#4a4a4a" stroke-width="0.6" />
<line x1="268.75" y1="227.05" x2="268.75" y2="229.52" stroke="#4a4a4a" stroke-width="0.6" />
<line x1="268.75" y1="227.05" x2="270.6" y2="227.05" stroke="#4a4a4a" stroke-width="0.6" />
<line x1="268.75" y1="229.52" x2="270.6" y2="229.52" stroke="#4a4a4a" stroke-width="0.6" />
<line x1="268.83" y1="231.99" x2="268.83" y2="234.46" stroke="#4a4a4a" stroke-width="0.6" />
<line x1="268.83" y1="231.99" x2="270.6" y2="231.99" stroke="#4a4a4a" stroke-width="0.6" />
<line x1="268.83" y1="234.46" x2="270.6" y2="234.46" stroke="#4a4a4a" stroke-width="0.6" />
<line x1="265.44" y1="238.17" x2="265.44" y2="256.2" stroke="#4a4a4a" stroke-width="0.6" />
<line x1="265.44" y1="238.17" x2="266.72" y2="238.17" stroke="#4a4a4a" stroke-width="0.6" />
<line x1="265.44" y1="256.2" x2="266.08" y2="256.2" stroke="#4a4a4a" stroke-width="0.6" />
<line x1="266.72" y1="236.93" x2="266.72" y2="239.4" stroke="#4a4a4a" stroke-width="0.6" />
<line x1="266.72" y1="236.93" x2="270.6" y2="236.93" stroke="#4a4a4a" stroke-width="0.6" />
<line x1="266.72" y1="239.4" x2="270.6" y2="239.4" stroke="#4a4a4a" stroke-width="0.6" />
<line x1="266.08" y1="248.82" x2="266.08" y2="263.57" stroke="#4a4a4a" stroke-width="0.6" />
<line x1="266.08" y1="248.82" x2="266.08" y2="248.82" stroke="#4a4a4a" stroke-width="0.6" />
<line x1="266.08" y1="263.57" x2="266.34" y2="263.57" stroke="#4a4a4a" stroke-width="0.6" />
<line x1="266.08" y1="244.66" x2="266.08" y2="252.99" stroke="#4a4a4a" stroke-width="0.6" />
<line x1="266.08" y1="244.66" x2="267.6" y2="244.66" stroke="#4a4a4a" stroke-width="0.6" />
<line x1="266.08" y1="252.99" x2="268.07" y2="252.99" stroke="#4a4a4a" stroke-width="0.6" />
<line x1="267.6" y1="241.88" x2="267.6" y2="247.43" stroke="#4a4a4a" stroke-width="0.6" />
<line x1="267.6" y1="241.88" x2="270.6" y2="241.88" stroke="#4a4a4a" stroke-width="0.6" />
<line x1="267.6" y1="247.43" x2="267.89" y2="247.43" stroke="#4a4a4a" stroke-width="0.6" />
<line x1="267.89" y1="245.58" x2="267.89" y2="249.29" stroke="#4a4a4a" stroke-width="0.6" />
<line x1="267.89" y1="245.58" x2="268.7" y2="245.58" stroke="#4a4a4a" stroke-width="0.6" />
<line x1="267.89" y1="249.29" x2="270.6" y2="249.29" stroke="#4a4a4a" stroke-width="0.6" />
<line x1="268.7" y1="244.35" x2="268.7" y2="246.82" stroke="#4a4a4a" stroke-width="0.6" />
<line x1="268.7" y1="244.35" x2="270.6" y2="244.35" stroke="#4a4a4a" stroke-width="0.6" />
<line x1="268.7" y1="246.82" x2="270.6" y2="246.82" stroke="#4a4a4a" stroke-width="0.6" />
<line x1="268.07" y1="251.76" x2="268.07" y2="254.23" stroke="#4a4a4a" stroke-width="0.6" />
<line x1="268.07" y1="251.76" x2="270.6" y2="251.76" stroke="#4a4a4a" stroke-width="0.6" />
<line x1="268.07" y1="254.23" x2="270.6" y2="254.23" stroke="#4a4a4a" stroke-width="0.6" />
<line x1="266.34" y1="259.79" x2="266.34" y2="267.35" stroke="#4a4a4a" stroke-width="0.6" />
<line x1="266.34" y1="259.79" x2="268.41" y2="259.79" stroke="#4a4a4a" stroke-width="0.6" />
<line x1="266.34" y1="267.35" x2="266.34" y2="267.35" stroke="#4a4a4a" stroke-width="0.6" />
<line x1="268.41" y1="257.93" x2="268.41" y2="261.64" stroke="#4a4a4a" stroke-width="0.6" />
<line x1="268.41" y1="257.93" x2="269.83" y2="257.93" stroke="#4a4a4a" stroke-width="0.6" />
<line x1="268.41" y1="261.64" x2="270.6" y2="261.64" stroke="#4a4a4a" stroke-width="0.6" />
<line x1="269.83" y1="256.7" x2="269.83" y2="259.17" stroke="#4a4a4a" stroke-width="0.6" />
<line x1="269.83" y1="256.7" x2="270.6" y2="256.7" stroke="#4a4a4a" stroke-width="0.6" />
<line x1="269.83" y1="259.17" x2="270.6" y2="259.17" stroke="#4a4a4a" stroke-width="0.6" />
<line x1="266.34" y1="264.11" x2="266.34" y2="270.6" stroke="#4a4a4a" stroke-width="0.6" />
<line x1="266.34" y1="264.11" x2="270.6" y2="264.11" stroke="#4a4a4a" stroke-width="0.6" />
<line x1="266.34" y1="270.6" x2="266.64" y2="270.6" stroke="#4a4a4a" stroke-width="0.6" />
<line x1="266.64" y1="267.82" x2="266.64" y2="273.38" stroke="#4a4a4a" stroke-width="0.6" />
<line x1="266.64" y1="267.82" x2="266.88" y2="267.82" stroke="#4a4a4a" stroke-width="0.6" />
<line x1="266.64" y1="273.38" x2="268.14" y2="273.38" stroke="#4a4a4a" stroke-width="0.6" />
<line x1="266.88" y1="266.58" x2="266.88" y2="269.05" stroke="#4a4a4a" stroke-width="0.6" />
<line x1="266.88" y1="266.58" x2="270.6" y2="266.58" stroke="#4a4a4a" stroke-width="0.6" />
<line x1="266.88" y1="269.05" x2="270.6" y2="269.05" stroke="#4a4a4a" stroke-width="0.6" />
<line x1="268.14" y1="271.52" x2="268.14" y2="275.23" stroke="#4a4a4a" stroke-width="0.6" />
<line x1="268.14" y1="271.52" x2="270.6" y2="271.52" stroke="#4a4a4a" stroke-width="0.6" />
<line x1="268.14" y1="275.23" x2="269.63" y2="275.23" stroke="#4a4a4a" stroke-width="0.6" />
<line x1="269.63" y1="273.99" x2="269.63" y2="276.46" stroke="#4a4a4a" stroke-width="0.6" />
<line x1="269.63" y1="273.99" x2="270.6" y2="273.99" stroke="#4a4a4a" stroke-width="0.6" />
<line x1="269.63" y1="276.46" x2="270.6" y2="276.46" stroke="#4a4a4a" stroke-width="0.6" />
<line x1="249.4" y1="69.24" x2="249.4" y2="137.3" stroke="#4a4a4a" stroke-width="0.6" />
<line x1="249.4" y1="69.24" x2="257.5" y2="69.24" stroke="#4a4a4a" stroke-width="0.6" />
<line x1="249.4" y1="137.3" x2="257.8" y2="137.3" stroke="#4a4a4a" stroke-width="0.6" />
<text transform="translate(432.9,52.49) scale(0.1)" font-size="22" fill="#333">Aur49</text>
<text transform="translate(432.9,54.96) scale(0.1)" font-size="22" fill="#333">Ikzl9</text>
<text transform="translate(432.9,57.43) scale(0.1)" font-size="22" fill="#333">Rap69</text>
<text transform="translate(432.9,59.9) scale(0.1)" font-size="22" fill="#333">Lag4</text>
<text transform="translate(432.9,62.37) scale(0.1)" font-size="22" fill="#333">Rapf9</text>
<text transform="translate(432.9,64.84) scale(0.1)" font-size="22" fill="#333">Ccnra</text>
<text transform="translate(432.9,67.31) scale(0.1)" font-size="22" fill="#333">Rap19</text>
<text transform="translate(432.9,69.78) scale(0.1)" font-size="22" fill="#333">Rap7a</text>
<text transform="translate(432.9,72.25) scale(0.1)" font-size="22" fill="#333">Itgra</text>
<text transform="translate(432.9,74.72) scale(0.1)" font-size="22" fill="#333">Itg1a9</text>
<text transform="translate(432.9,77.19) scale(0.1)" font-size="22" fill="#333">Nkg11</text>
<text transform="translate(432.9,79.66) scale(0.1)" font-size="22" fill="#333">Lagb9</text>
<text transform="translate(432.9,82.13) scale(0.1)" font-size="22" fill="#333">Tnff</text>
<text transform="translate(432.9,84.6) scale(0.1)" font-size="22" fill="#333">Bub29</text>
<text transform="translate(432.9,87.07) scale(0.1)" font-size="22" fill="#333">Nkg112</text>
<text transform="translate(432.9,89.55) scale(0.1)" font-size="22" fill="#333">Sell119</text>
<text transform="translate(432.9,92.02) scale(0.1)" font-size="22" fill="#333">Ctlr2</text>
<text transform="translate(432.9,94.49) scale(0.1)" font-size="22" fill="#333">Gpra</text>
<text transform="translate(432.9,96.96) scale(0.1)" font-size="22" fill="#333">Ikz2</text>
<text transform="translate(432.9,99.43) scale(0.1)" font-size="22" fill="#333">Plk62</text>
<text transform="translate(432.9,101.9) scale(0.1)" font-size="22" fill="#333">Top79</text>
<text transform="translate(432.9,104.37) scale(0.1)" font-size="22" fill="#333">Nkg41</text>
<text transform="translate(432.9,106.84) scale(0.1)" font-size="22" fill="#333">Klr4</text>
<text transform="translate(432.9,109.31) scale(0.1)" font-size="22" fill="#333">Ly6</text>
<text transform="translate(432.9,111.78) scale(0.1)" font-size="22" fill="#333">Bub4a</text>
<text transform="translate(432.9,114.25) scale(0.1)" font-size="22" fill="#333">Pdc111</text>
<text transform="translate(432.9,116.72) scale(0.1)" font-size="22" fill="#333">Sla11a</text>
<text transform="translate(432.9,119.19) scale(0.1)" font-size="22" fill="#333">Cdc69</text>
<text transform="translate(432.9,121.66) scale(0.1)" font-size="22" fill="#333">Bubf</text>
<text transform="translate(432.9,124.13) scale(0.1)" font-size="22" fill="#333">Lag2a</text>
<text transform="translate(432.9,126.6) scale(0.1)" font-size="22" fill="#333">Rapa1</text>
<text transform="translate(432.9,129.08) scale(0.1)" font-size="22" fill="#333">Lag7</text>
<text transform="translate(432.9,131.55) scale(0.1)" font-size="22" fill="#333">Ilf2</text>
<text transform="translate(432.9,134.02) scale(0.1)" font-size="22" fill="#333">Klr1a</text>
<text transform="translate(432.9,136.49) scale(0.1)" font-size="22" fill="#333">Tnf49</text>
<text transform="translate(432.9,138.96) scale(0.1)" font-size="22" fill="#333">Tnf7a</text>
<text transform="translate(432.9,141.43) scale(0.1)" font-size="22" fill="#333">Ly11</text>
<text transform="translate(432.9,143.9) scale(0.1)" font-size="22" fill="#333">Aur1</text>
<text transform="translate(432.9,146.37) scale(0.1)" font-size="22" fill="#333">Cda</text>
<text transform="translate(432.9,148.84) scale(0.1)" font-size="22" fill="#333">Tnfr2</text>
<text transform="translate(432.9,151.31) scale(0.1)" font-size="22" fill="#333">Mki41</text>
<text transform="translate(432.9,153.78) scale(0.1)" font-size="22" fill="#333">Itg11</text>
<text transform="translate(432.9,156.25) scale(0.1)" font-size="22" fill="#333">Lyl1</text>
<text transform="translate(432.9,158.72) scale(0.1)" font-size="22" fill="#333">Ikzr22</text>
<text transform="translate(432.9,161.19) scale(0.1)" font-size="22" fill="#333">Nkg29</text>
<text transform="translate(432.9,163.66) scale(0.1)" font-size="22" fill="#333">Nkg69</text>
<text transform="translate(432.9,166.14) scale(0.1)" font-size="22" fill="#333">Sla49</text>
<text transform="translate(432.9,168.61) scale(0.1)" font-size="22" fill="#333">Bub7a</text>
<text transform="translate(432.9,171.08) scale(0.1)" font-size="22" fill="#333">Aurr21</text>
<text transform="translate(432.9,173.55) scale(0.1)" font-size="22" fill="#333">Toxf9</text>
<text transform="translate(432.9,176.02) scale(0.1)" font-size="22" fill="#333">Top11</text>
<text transform="translate(432.9,178.49) scale(0.1)" font-size="22" fill="#333">Cd3b2</text>
<text transform="translate(432.9,180.96) scale(0.1)" font-size="22" fill="#333">Irf2</text>
<text transform="translate(432.9,183.43) scale(0.1)" font-size="22" fill="#333">Ikza</text>
<text transform="translate(432.9,185.9) scale(0.1)" font-size="22" fill="#333">Ly21</text>
<text transform="translate(432.9,188.37) scale(0.1)" font-size="22" fill="#333">H24a</text>
<text transform="translate(432.9,190.84) scale(0.1)" font-size="22" fill="#333">Bub112</text>
<text transform="translate(432.9,193.31) scale(0.1)" font-size="22" fill="#333">Il4</text>
<text transform="translate(432.9,195.78) scale(0.1)" font-size="22" fill="#333">Ill1</text>
<text transform="translate(432.9,198.25) scale(0.1)" font-size="22" fill="#333">Ptpf9</text>
<text transform="translate(432.9,200.72) scale(0.1)" font-size="22" fill="#333">Irfb1</text>
<text transform="translate(432.9,203.2) scale(0.1)" font-size="22" fill="#333">Cxcl1</text>
<text transform="translate(432.9,205.67) scale(0.1)" font-size="22" fill="#333">Plkf2</text>
<text transform="translate(432.9,208.14) scale(0.1)" font-size="22" fill="#333">Sla3b</text>
<text transform="translate(432.9,210.61) scale(0.1)" font-size="22" fill="#333">Ikzf9</text>
<text transform="translate(432.9,213.08) scale(0.1)" font-size="22" fill="#333">Ccn61</text>
<text transform="translate(432.9,215.55) scale(0.1)" font-size="22" fill="#333">Aurl</text>
<text transform="translate(432.9,218.02) scale(0.1)" font-size="22" fill="#333">Tox6a</text>
<text transform="translate(432.9,220.49) scale(0.1)" font-size="22" fill="#333">Slaa9</text>
<text transform="translate(432.9,222.96) scale(0.1)" font-size="22" fill="#333">Irfla</text>
<text transform="translate(432.9,225.43) scale(0.1)" font-size="22" fill="#333">Ccn2</text>
<text transform="translate(432.9,227.9) scale(0.1)" font-size="22" fill="#333">Fcgla</text>
<text transform="translate(432.9,230.37) scale(0.1)" font-size="22" fill="#333">Cdcr29</text>
<text transform="translate(432.9,232.84) scale(0.1)" font-size="22" fill="#333">Ctlf</text>
<text transform="translate(432.9,235.31) scale(0.1)" font-size="22" fill="#333">Rgs9</text>
<text transform="translate(432.9,237.78) scale(0.1)" font-size="22" fill="#333">Kifl9</text>
<text transform="translate(432.9,240.25) scale(0.1)" font-size="22" fill="#333">Cxc1a1</text>
<text transform="translate(432.9,242.73) scale(0.1)" font-size="22" fill="#333">Ly3ba</text>
<text transform="translate(432.9,245.2) scale(0.1)" font-size="22" fill="#333">Fcg3b9</text>
<text transform="translate(432.9,247.67) scale(0.1)" font-size="22" fill="#333">H24</text>
<text transform="translate(432.9,250.14) scale(0.1)" font-size="22" fill="#333">Klrf9</text>
<text transform="translate(432.9,252.61) scale(0.1)" font-size="22" fill="#333">Bub21</text>
<text transform="translate(432.9,255.08) scale(0.1)" font-size="22" fill="#333">Klrf2</text>
<text transform="translate(432.9,257.55) scale(0.1)" font-size="22" fill="#333">Klr2</text>
<text transform="translate(432.9,260.02) scale(0.1)" font-size="22" fill="#333">Itgr</text>
<text transform="translate(432.9,262.49) scale(0.1)" font-size="22" fill="#333">Rap1a9</text>
<text transform="translate(432.9,264.96) scale(0.1)" font-size="22" fill="#333">Tox1a</text>
<text transform="translate(432.9,267.43) scale(0.1)" font-size="22" fill="#333">Ccna</text>
<text transform="translate(432.9,269.9) scale(0.1)" font-size="22" fill="#333">Ptp1aa</text>
<text transform="translate(432.9,272.37) scale(0.1)" font-size="22" fill="#333">Mki11</text>
<text transform="translate(432.9,274.84) scale(0.1)" font-size="22" fill="#333">Ccn1a</text>
<text transform="translate(432.9,277.31) scale(0.1)" font-size="22" fill="#333">Mkia</text>
<rect x="271.2" y="45.3" width="90.63" height="3.6" fill="#a8002c" />
<rect x="361.83" y="45.3" width="67.97" height="3.6" fill="#27447f" />
<text x="433" y="48.9" font-size="5.6" text-anchor="start" font-weight="400" fill="#111" stroke="#111" stroke-width="0.05" >genotype</text>
<line x1="302.2" y1="22.9" x2="390.4" y2="22.9" stroke="#555" stroke-width="0.7" />
<line x1="302.2" y1="22.9" x2="302.2" y2="37.7" stroke="#555" stroke-width="0.7" />
<line x1="282.53" y1="37.7" x2="322.2" y2="37.7" stroke="#555" stroke-width="0.7" />
<line x1="282.53" y1="37.7" x2="282.53" y2="44.6" stroke="#555" stroke-width="0.7" />
<line x1="322.2" y1="37.7" x2="322.2" y2="38.5" stroke="#555" stroke-width="0.7" />
<line x1="305.19" y1="38.5" x2="339.5" y2="38.5" stroke="#555" stroke-width="0.7" />
<line x1="305.19" y1="38.5" x2="305.19" y2="44.6" stroke="#555" stroke-width="0.7" />
<line x1="339.5" y1="38.5" x2="339.5" y2="39.5" stroke="#555" stroke-width="0.7" />
<line x1="327.84" y1="39.5" x2="350.5" y2="39.5" stroke="#555" stroke-width="0.7" />
<line x1="327.84" y1="39.5" x2="327.84" y2="44.6" stroke="#555" stroke-width="0.7" />
<line x1="350.5" y1="39.5" x2="350.5" y2="44.6" stroke="#555" stroke-width="0.7" />
<line x1="390.4" y1="22.9" x2="390.4" y2="37" stroke="#555" stroke-width="0.7" />
<line x1="373.16" y1="37" x2="407.2" y2="37" stroke="#555" stroke-width="0.7" />
<line x1="373.16" y1="37" x2="373.16" y2="44.6" stroke="#555" stroke-width="0.7" />
<line x1="407.2" y1="37" x2="407.2" y2="38" stroke="#555" stroke-width="0.7" />
<line x1="395.81" y1="38" x2="418.47" y2="38" stroke="#555" stroke-width="0.7" />
<line x1="395.81" y1="38" x2="395.81" y2="44.6" stroke="#555" stroke-width="0.7" />
<line x1="418.47" y1="38" x2="418.47" y2="44.6" stroke="#555" stroke-width="0.7" />
<rect x="305.9" y="27" width="5.4" height="5.8" fill="#a8002c" />
<text x="314.8" y="32.4" font-size="5.8" text-anchor="start" font-weight="400" fill="#111" stroke="#111" stroke-width="0.05" textLength="39.6" lengthAdjust="spacingAndGlyphs" >Tcl-1 tg IRF4 +/+</text>
<rect x="393.4" y="27" width="5.6" height="5.8" fill="#27447f" />
<text x="402" y="32.4" font-size="5.8" text-anchor="start" font-weight="400" fill="#111" stroke="#111" stroke-width="0.05" textLength="49" lengthAdjust="spacingAndGlyphs" >Tcl-1 tg IRF4 &#916;B/ &#916;B</text>
<defs><linearGradient id="ck" x1="0" x2="1"><stop offset="0" stop-color="#d41414"/><stop offset="0.5" stop-color="#000"/><stop offset="1" stop-color="#6cb23e"/></linearGradient></defs>
<rect x="271.3" y="283" width="35" height="3.8" fill="url(#ck)" />
<text transform="translate(274.6,292) rotate(-75)" font-size="3.4" text-anchor="middle" fill="#333" stroke="#333" stroke-width="0.1">2</text>
<text transform="translate(282.2,292) rotate(-75)" font-size="3.4" text-anchor="middle" fill="#333" stroke="#333" stroke-width="0.1">1</text>
<text transform="translate(289.8,292) rotate(-75)" font-size="3.4" text-anchor="middle" fill="#333" stroke="#333" stroke-width="0.1">0</text>
<text transform="translate(297.4,292) rotate(-75)" font-size="3.4" text-anchor="middle" fill="#333" stroke="#333" stroke-width="0.1">-1</text>
<text transform="translate(305,292) rotate(-75)" font-size="3.4" text-anchor="middle" fill="#333" stroke="#333" stroke-width="0.1">-2</text>
<text x="6.4" y="318.3" font-size="12" text-anchor="start" font-weight="700" fill="#000" stroke="#000" stroke-width="0.08" >C</text>
<text x="93.8" y="318.3" font-size="12" text-anchor="start" font-weight="700" fill="#000" stroke="#000" stroke-width="0.08" >D</text>
<text x="265" y="318.3" font-size="12" text-anchor="start" font-weight="700" fill="#000" stroke="#000" stroke-width="0.08" >E</text>
<text x="354.9" y="318.3" font-size="12" text-anchor="start" font-weight="700" fill="#000" stroke="#000" stroke-width="0.08" >F</text>
<line x1="41.05" y1="332.2" x2="41.05" y2="406" stroke="#111" stroke-width="1.3" />
<line x1="38.45" y1="335.5" x2="41.05" y2="335.5" stroke="#111" stroke-width="0.9" />
<text x="34.65" y="337.4" font-size="5.3" text-anchor="end" font-weight="400" fill="#111" stroke="#111" stroke-width="0.08" >0.0025</text>
<line x1="38.45" y1="349.48" x2="41.05" y2="349.48" stroke="#111" stroke-width="0.9" />
<text x="34.65" y="351.38" font-size="5.3" text-anchor="end" font-weight="400" fill="#111" stroke="#111" stroke-width="0.08" >0.0020</text>
<line x1="38.45" y1="363.46" x2="41.05" y2="363.46" stroke="#111" stroke-width="0.9" />
<text x="34.65" y="365.36" font-size="5.3" text-anchor="end" font-weight="400" fill="#111" stroke="#111" stroke-width="0.08" >0.0015</text>
<line x1="38.45" y1="377.44" x2="41.05" y2="377.44" stroke="#111" stroke-width="0.9" />
<text x="34.65" y="379.34" font-size="5.3" text-anchor="end" font-weight="400" fill="#111" stroke="#111" stroke-width="0.08" >0.0010</text>
<line x1="38.45" y1="391.42" x2="41.05" y2="391.42" stroke="#111" stroke-width="0.9" />
<text x="34.65" y="393.32" font-size="5.3" text-anchor="end" font-weight="400" fill="#111" stroke="#111" stroke-width="0.08" >0.0005</text>
<line x1="38.45" y1="405.4" x2="41.05" y2="405.4" stroke="#111" stroke-width="0.9" />
<text x="34.65" y="407.3" font-size="5.3" text-anchor="end" font-weight="400" fill="#111" stroke="#111" stroke-width="0.08" >0.0000</text>
<line x1="40.45" y1="405.4" x2="76.5" y2="405.4" stroke="#111" stroke-width="1.3" />
<line x1="50.3" y1="405.4" x2="50.3" y2="408.2" stroke="#111" stroke-width="0.9" />
<line x1="50.3" y1="349.9" x2="50.3" y2="364.6" stroke="#3a3a3a" stroke-width="1.05" />
<line x1="50.3" y1="383.3" x2="50.3" y2="391.5" stroke="#3a3a3a" stroke-width="1.05" />
<line x1="47.2" y1="349.9" x2="53.4" y2="349.9" stroke="#222" stroke-width="1.1" />
<line x1="47.2" y1="391.5" x2="53.4" y2="391.5" stroke="#222" stroke-width="1.1" />
<rect x="43.8" y="364.6" width="13" height="18.7" fill="#a8002c" stroke="#8c0022" stroke-width="0.5"/>
<line x1="43.8" y1="375" x2="56.8" y2="375" stroke="#000" stroke-width="1.2" />
<line x1="68.95" y1="405.4" x2="68.95" y2="408.2" stroke="#111" stroke-width="0.9" />
<line x1="68.95" y1="365.6" x2="68.95" y2="375.6" stroke="#3a3a3a" stroke-width="1.05" />
<line x1="68.95" y1="393" x2="68.95" y2="394.1" stroke="#3a3a3a" stroke-width="1.05" />
<line x1="65.85" y1="365.6" x2="72.05" y2="365.6" stroke="#222" stroke-width="1.1" />
<line x1="65.85" y1="394.1" x2="72.05" y2="394.1" stroke="#222" stroke-width="1.1" />
<rect x="62.5" y="375.6" width="12.9" height="17.4" fill="#2f4b7c" stroke="#1f3a6a" stroke-width="0.5"/>
<line x1="62.5" y1="384.4" x2="75.4" y2="384.4" stroke="#000" stroke-width="1.2" />
<text x="69" y="362.8" font-size="5.2" text-anchor="middle" font-weight="400" fill="#333" stroke="#333" stroke-width="0.08" >*</text>
<text x="59.5" y="327.6" font-size="7.2" text-anchor="middle" font-weight="400" fill="#111" stroke="#111" stroke-width="0.08" >MHC1</text>
<text x="43.05" y="339.4" font-size="5.2" text-anchor="start" font-weight="400" fill="#111" stroke="#111" stroke-width="0.08" >H2-K1, D1</text>
<text x="43.05" y="344.5" font-size="5.2" text-anchor="start" font-weight="400" fill="#111" stroke="#111" stroke-width="0.08" >P = 0.05</text>
<text transform="translate(13.5,365.8) rotate(-90)" font-size="6.6" text-anchor="middle" font-weight="400" fill="#111" stroke="#111" stroke-width="0.08" textLength="62.4" lengthAdjust="spacingAndGlyphs">mRNA relative expression</text>
<text x="17.25" y="416.1" font-size="5.3" text-anchor="start" font-weight="400" fill="#111" stroke="#111" stroke-width="0.08" >Tcl-1 tg</text>
<text x="17.25" y="425.4" font-size="5.3" text-anchor="start" font-weight="400" fill="#111" stroke="#111" stroke-width="0.08" >IRF4</text>
<text x="17.25" y="434.2" font-size="5.3" text-anchor="start" font-weight="400" fill="#111" stroke="#111" stroke-width="0.08" >N =</text>
<text x="50.3" y="416.1" font-size="5.3" text-anchor="middle" font-weight="400" fill="#111" stroke="#111" stroke-width="0.08" >+</text>
<text x="68.95" y="416.1" font-size="5.3" text-anchor="middle" font-weight="400" fill="#111" stroke="#111" stroke-width="0.08" >+</text>
<text x="50.3" y="425.4" font-size="5.3" text-anchor="middle" font-weight="400" fill="#111" stroke="#111" stroke-width="0.08" >+/+</text>
<text x="68.95" y="425.4" font-size="5.3" text-anchor="middle" font-weight="400" fill="#111" stroke="#111" stroke-width="0.08" >&#916;B/&#916;B</text>
<text x="50.3" y="434.2" font-size="5.3" text-anchor="middle" font-weight="400" fill="#111" stroke="#111" stroke-width="0.08" >12</text>
<text x="68.95" y="434.6" font-size="5.3" text-anchor="middle" font-weight="400" fill="#111" stroke="#111" stroke-width="0.08" >10</text>
<line x1="124.8" y1="332.2" x2="124.8" y2="406" stroke="#111" stroke-width="1.3" />
<line x1="122.2" y1="334.7" x2="124.8" y2="334.7" stroke="#111" stroke-width="0.9" />
<text x="118.4" y="336.6" font-size="5.3" text-anchor="end" font-weight="400" fill="#111" stroke="#111" stroke-width="0.08" >0.006</text>
<line x1="122.2" y1="346.48" x2="124.8" y2="346.48" stroke="#111" stroke-width="0.9" />
<text x="118.4" y="348.38" font-size="5.3" text-anchor="end" font-weight="400" fill="#111" stroke="#111" stroke-width="0.08" >0.005</text>
<line x1="122.2" y1="358.27" x2="124.8" y2="358.27" stroke="#111" stroke-width="0.9" />
<text x="118.4" y="360.17" font-size="5.3" text-anchor="end" font-weight="400" fill="#111" stroke="#111" stroke-width="0.08" >0.004</text>
<line x1="122.2" y1="370.05" x2="124.8" y2="370.05" stroke="#111" stroke-width="0.9" />
<text x="118.4" y="371.95" font-size="5.3" text-anchor="end" font-weight="400" fill="#111" stroke="#111" stroke-width="0.08" >0.003</text>
<line x1="122.2" y1="381.83" x2="124.8" y2="381.83" stroke="#111" stroke-width="0.9" />
<text x="118.4" y="383.73" font-size="5.3" text-anchor="end" font-weight="400" fill="#111" stroke="#111" stroke-width="0.08" >0.002</text>
<line x1="122.2" y1="393.62" x2="124.8" y2="393.62" stroke="#111" stroke-width="0.9" />
<text x="118.4" y="395.52" font-size="5.3" text-anchor="end" font-weight="400" fill="#111" stroke="#111" stroke-width="0.08" >0.001</text>
<line x1="122.2" y1="405.4" x2="124.8" y2="405.4" stroke="#111" stroke-width="0.9" />
<text x="118.4" y="407.3" font-size="5.3" text-anchor="end" font-weight="400" fill="#111" stroke="#111" stroke-width="0.08" >0.000</text>
<line x1="124.2" y1="405.4" x2="161" y2="405.4" stroke="#111" stroke-width="1.3" />
<line x1="134.25" y1="405.4" x2="134.25" y2="408.2" stroke="#111" stroke-width="0.9" />
<line x1="134.25" y1="368.4" x2="134.25" y2="384" stroke="#3a3a3a" stroke-width="1.05" />
<line x1="134.25" y1="397.8" x2="134.25" y2="402.1" stroke="#3a3a3a" stroke-width="1.05" />
<line x1="131.15" y1="368.4" x2="137.35" y2="368.4" stroke="#222" stroke-width="1.1" />
<line x1="131.15" y1="402.1" x2="137.35" y2="402.1" stroke="#222" stroke-width="1.1" />
<rect x="127.7" y="384" width="13.1" height="13.8" fill="#a8002c" stroke="#8c0022" stroke-width="0.5"/>
<line x1="127.7" y1="389" x2="140.8" y2="389" stroke="#000" stroke-width="1.2" />
<line x1="153.15" y1="405.4" x2="153.15" y2="408.2" stroke="#111" stroke-width="0.9" />
<line x1="153.15" y1="394.2" x2="153.15" y2="394.8" stroke="#3a3a3a" stroke-width="1.05" />
<line x1="153.15" y1="400.8" x2="153.15" y2="402.2" stroke="#3a3a3a" stroke-width="1.05" />
<line x1="150.05" y1="394.2" x2="156.25" y2="394.2" stroke="#222" stroke-width="1.1" />
<line x1="150.05" y1="402.2" x2="156.25" y2="402.2" stroke="#222" stroke-width="1.1" />
<rect x="146.8" y="394.8" width="12.7" height="6" fill="#2f4b7c" stroke="#1f3a6a" stroke-width="0.5"/>
<line x1="146.8" y1="397.8" x2="159.5" y2="397.8" stroke="#000" stroke-width="1.2" />
<circle cx="153.2" cy="389.4" r="0.95" fill="#1c2f5e"/>
<circle cx="153.2" cy="347" r="0.95" fill="#1c2f5e"/>
<text x="143.6" y="327.6" font-size="7.2" text-anchor="middle" font-weight="400" fill="#111" stroke="#111" stroke-width="0.08" >MHC2</text>
<text x="126.8" y="339.4" font-size="5.2" text-anchor="start" font-weight="400" fill="#111" stroke="#111" stroke-width="0.08" >H2-DMb</text>
<text x="126.8" y="344.5" font-size="5.2" text-anchor="start" font-weight="400" fill="#111" stroke="#111" stroke-width="0.08" >P = 0.05</text>
<text transform="translate(98.8,368.7) rotate(-90)" font-size="6.6" text-anchor="middle" font-weight="400" fill="#111" stroke="#111" stroke-width="0.08" textLength="66.2" lengthAdjust="spacingAndGlyphs">mRNA relative expression</text>
<text x="100.9" y="416.1" font-size="5.3" text-anchor="start" font-weight="400" fill="#111" stroke="#111" stroke-width="0.08" >Tcl-1 tg</text>
<text x="100.9" y="425.4" font-size="5.3" text-anchor="start" font-weight="400" fill="#111" stroke="#111" stroke-width="0.08" >IRF4</text>
<text x="100.9" y="434.2" font-size="5.3" text-anchor="start" font-weight="400" fill="#111" stroke="#111" stroke-width="0.08" >N =</text>
<text x="134.25" y="416.1" font-size="5.3" text-anchor="middle" font-weight="400" fill="#111" stroke="#111" stroke-width="0.08" >+</text>
<text x="153.15" y="416.1" font-size="5.3" text-anchor="middle" font-weight="400" fill="#111" stroke="#111" stroke-width="0.08" >+</text>
<text x="134.25" y="425.4" font-size="5.3" text-anchor="middle" font-weight="400" fill="#111" stroke="#111" stroke-width="0.08" >+/+</text>
<text x="153.15" y="425.4" font-size="5.3" text-anchor="middle" font-weight="400" fill="#111" stroke="#111" stroke-width="0.08" >&#916;B/&#916;B</text>
<text x="134.25" y="434.2" font-size="5.3" text-anchor="middle" font-weight="400" fill="#111" stroke="#111" stroke-width="0.08" >12</text>
<text x="153.15" y="434.6" font-size="5.3" text-anchor="middle" font-weight="400" fill="#111" stroke="#111" stroke-width="0.08" >10</text>
<line x1="206" y1="332.2" x2="206" y2="406" stroke="#111" stroke-width="1.3" />
<line x1="203.4" y1="335.2" x2="206" y2="335.2" stroke="#111" stroke-width="0.9" />
<text x="199.6" y="337.1" font-size="5.3" text-anchor="end" font-weight="400" fill="#111" stroke="#111" stroke-width="0.08" >0.0025</text>
<line x1="203.4" y1="349.24" x2="206" y2="349.24" stroke="#111" stroke-width="0.9" />
<text x="199.6" y="351.14" font-size="5.3" text-anchor="end" font-weight="400" fill="#111" stroke="#111" stroke-width="0.08" >0.0020</text>
<line x1="203.4" y1="363.28" x2="206" y2="363.28" stroke="#111" stroke-width="0.9" />
<text x="199.6" y="365.18" font-size="5.3" text-anchor="end" font-weight="400" fill="#111" stroke="#111" stroke-width="0.08" >0.0015</text>
<line x1="203.4" y1="377.32" x2="206" y2="377.32" stroke="#111" stroke-width="0.9" />
<text x="199.6" y="379.22" font-size="5.3" text-anchor="end" font-weight="400" fill="#111" stroke="#111" stroke-width="0.08" >0.0010</text>
<line x1="203.4" y1="391.36" x2="206" y2="391.36" stroke="#111" stroke-width="0.9" />
<text x="199.6" y="393.26" font-size="5.3" text-anchor="end" font-weight="400" fill="#111" stroke="#111" stroke-width="0.08" >0.0005</text>
<line x1="203.4" y1="405.4" x2="206" y2="405.4" stroke="#111" stroke-width="0.9" />
<text x="199.6" y="407.3" font-size="5.3" text-anchor="end" font-weight="400" fill="#111" stroke="#111" stroke-width="0.08" >0.0000</text>
<line x1="205.4" y1="405.4" x2="242.4" y2="405.4" stroke="#111" stroke-width="1.3" />
<line x1="214.95" y1="405.4" x2="214.95" y2="408.2" stroke="#111" stroke-width="0.9" />
<line x1="214.95" y1="349.8" x2="214.95" y2="362.4" stroke="#3a3a3a" stroke-width="1.05" />
<line x1="214.95" y1="391.5" x2="214.95" y2="401.5" stroke="#3a3a3a" stroke-width="1.05" />
<line x1="211.85" y1="349.8" x2="218.05" y2="349.8" stroke="#222" stroke-width="1.1" />
<line x1="211.85" y1="401.5" x2="218.05" y2="401.5" stroke="#222" stroke-width="1.1" />
<rect x="208.4" y="362.4" width="13.1" height="29.1" fill="#a8002c" stroke="#8c0022" stroke-width="0.5"/>
<line x1="208.4" y1="371.6" x2="221.5" y2="371.6" stroke="#000" stroke-width="1.2" />
<line x1="233.95" y1="405.4" x2="233.95" y2="408.2" stroke="#111" stroke-width="0.9" />
<line x1="233.95" y1="372.1" x2="233.95" y2="390.1" stroke="#3a3a3a" stroke-width="1.05" />
<line x1="233.95" y1="403.7" x2="233.95" y2="404.8" stroke="#3a3a3a" stroke-width="1.05" />
<line x1="230.85" y1="372.1" x2="237.05" y2="372.1" stroke="#222" stroke-width="1.1" />
<line x1="230.85" y1="404.8" x2="237.05" y2="404.8" stroke="#222" stroke-width="1.1" />
<rect x="227.4" y="390.1" width="13.1" height="13.6" fill="#2f4b7c" stroke="#1f3a6a" stroke-width="0.5"/>
<line x1="227.4" y1="397.7" x2="240.5" y2="397.7" stroke="#000" stroke-width="1.2" />
<text x="233.9" y="370.3" font-size="5.2" text-anchor="middle" font-weight="400" fill="#333" stroke="#333" stroke-width="0.08" >**</text>
<text x="224.6" y="327.6" font-size="7.2" text-anchor="middle" font-weight="400" fill="#111" stroke="#111" stroke-width="0.08" >MHC2</text>
<text x="208" y="339.4" font-size="5.2" text-anchor="start" font-weight="400" fill="#111" stroke="#111" stroke-width="0.08" >H2-Aa</text>
<text x="208" y="344.5" font-size="5.2" text-anchor="start" font-weight="400" fill="#111" stroke="#111" stroke-width="0.08" >P = 0.006</text>
<text transform="translate(177.5,365.8) rotate(-90)" font-size="6.6" text-anchor="middle" font-weight="400" fill="#111" stroke="#111" stroke-width="0.08" textLength="62.4" lengthAdjust="spacingAndGlyphs">mRNA relative expression</text>
<text x="181.6" y="416.1" font-size="5.3" text-anchor="start" font-weight="400" fill="#111" stroke="#111" stroke-width="0.08" >Tcl-1 tg</text>
<text x="181.6" y="425.4" font-size="5.3" text-anchor="start" font-weight="400" fill="#111" stroke="#111" stroke-width="0.08" >IRF4</text>
<text x="181.6" y="434.2" font-size="5.3" text-anchor="start" font-weight="400" fill="#111" stroke="#111" stroke-width="0.08" >N =</text>
<text x="214.95" y="416.1" font-size="5.3" text-anchor="middle" font-weight="400" fill="#111" stroke="#111" stroke-width="0.08" >+</text>
<text x="233.95" y="416.1" font-size="5.3" text-anchor="middle" font-weight="400" fill="#111" stroke="#111" stroke-width="0.08" >+</text>
<text x="214.95" y="425.4" font-size="5.3" text-anchor="middle" font-weight="400" fill="#111" stroke="#111" stroke-width="0.08" >+/+</text>
<text x="233.95" y="425.4" font-size="5.3" text-anchor="middle" font-weight="400" fill="#111" stroke="#111" stroke-width="0.08" >&#916;B/&#916;B</text>
<text x="214.95" y="434.2" font-size="5.3" text-anchor="middle" font-weight="400" fill="#111" stroke="#111" stroke-width="0.08" >12</text>
<text x="233.95" y="434.6" font-size="5.3" text-anchor="middle" font-weight="400" fill="#111" stroke="#111" stroke-width="0.08" >10</text>
<line x1="302" y1="332.2" x2="302" y2="406.2" stroke="#111" stroke-width="1.3" />
<line x1="299.4" y1="334.7" x2="302" y2="334.7" stroke="#111" stroke-width="0.9" />
<text x="295.6" y="336.6" font-size="5.3" text-anchor="end" font-weight="400" fill="#111" stroke="#111" stroke-width="0.08" >0.00004</text>
<line x1="299.4" y1="352.43" x2="302" y2="352.43" stroke="#111" stroke-width="0.9" />
<text x="295.6" y="354.32" font-size="5.3" text-anchor="end" font-weight="400" fill="#111" stroke="#111" stroke-width="0.08" >0.00003</text>
<line x1="299.4" y1="370.15" x2="302" y2="370.15" stroke="#111" stroke-width="0.9" />
<text x="295.6" y="372.05" font-size="5.3" text-anchor="end" font-weight="400" fill="#111" stroke="#111" stroke-width="0.08" >0.00002</text>
<line x1="299.4" y1="387.88" x2="302" y2="387.88" stroke="#111" stroke-width="0.9" />
<text x="295.6" y="389.77" font-size="5.3" text-anchor="end" font-weight="400" fill="#111" stroke="#111" stroke-width="0.08" >0.00001</text>
<line x1="299.4" y1="405.6" x2="302" y2="405.6" stroke="#111" stroke-width="0.9" />
<text x="295.6" y="407.5" font-size="5.3" text-anchor="end" font-weight="400" fill="#111" stroke="#111" stroke-width="0.08" >0.00000</text>
<line x1="301.4" y1="405.6" x2="338.5" y2="405.6" stroke="#111" stroke-width="1.3" />
<line x1="311.15" y1="405.6" x2="311.15" y2="408.4" stroke="#111" stroke-width="0.9" />
<line x1="311.15" y1="348.8" x2="311.15" y2="352.7" stroke="#3a3a3a" stroke-width="1.05" />
<line x1="311.15" y1="389.5" x2="311.15" y2="400" stroke="#3a3a3a" stroke-width="1.05" />
<line x1="308.05" y1="348.8" x2="314.25" y2="348.8" stroke="#222" stroke-width="1.1" />
<line x1="308.05" y1="400" x2="314.25" y2="400" stroke="#222" stroke-width="1.1" />
<rect x="304.4" y="352.7" width="13.5" height="36.8" fill="#a8002c" stroke="#8c0022" stroke-width="0.5"/>
<line x1="304.4" y1="383.7" x2="317.9" y2="383.7" stroke="#000" stroke-width="1.2" />
<line x1="329.9" y1="405.6" x2="329.9" y2="408.4" stroke="#111" stroke-width="0.9" />
<line x1="329.9" y1="376.5" x2="329.9" y2="388.1" stroke="#3a3a3a" stroke-width="1.05" />
<line x1="329.9" y1="402.3" x2="329.9" y2="405.1" stroke="#3a3a3a" stroke-width="1.05" />
<line x1="326.8" y1="376.5" x2="333" y2="376.5" stroke="#222" stroke-width="1.1" />
<line x1="326.8" y1="405.1" x2="333" y2="405.1" stroke="#222" stroke-width="1.1" />
<rect x="323.3" y="388.1" width="13.2" height="14.2" fill="#2f4b7c" stroke="#1f3a6a" stroke-width="0.5"/>
<line x1="323.3" y1="395.3" x2="336.5" y2="395.3" stroke="#000" stroke-width="1.2" />
<text x="329.9" y="374.8" font-size="5.2" text-anchor="middle" font-weight="400" fill="#333" stroke="#333" stroke-width="0.08" >**</text>
<text x="320.6" y="327.6" font-size="7.2" text-anchor="middle" font-weight="400" fill="#111" stroke="#111" stroke-width="0.08" >CIITA</text>
<text x="304" y="339.4" font-size="5.2" text-anchor="start" font-weight="400" fill="#111" stroke="#111" stroke-width="0.08" >P = 0.008</text>
<text transform="translate(271.4,365.8) rotate(-90)" font-size="6.6" text-anchor="middle" font-weight="400" fill="#111" stroke="#111" stroke-width="0.08" textLength="62.4" lengthAdjust="spacingAndGlyphs">mRNA relative expression</text>
<text x="277.7" y="416.1" font-size="5.3" text-anchor="start" font-weight="400" fill="#111" stroke="#111" stroke-width="0.08" >Tcl-1 tg</text>
<text x="277.7" y="425.4" font-size="5.3" text-anchor="start" font-weight="400" fill="#111" stroke="#111" stroke-width="0.08" >IRF4</text>
<text x="277.7" y="434.2" font-size="5.3" text-anchor="start" font-weight="400" fill="#111" stroke="#111" stroke-width="0.08" >N =</text>
<text x="311.15" y="416.1" font-size="5.3" text-anchor="middle" font-weight="400" fill="#111" stroke="#111" stroke-width="0.08" >+</text>
<text x="329.9" y="416.1" font-size="5.3" text-anchor="middle" font-weight="400" fill="#111" stroke="#111" stroke-width="0.08" >+</text>
<text x="311.15" y="425.4" font-size="5.3" text-anchor="middle" font-weight="400" fill="#111" stroke="#111" stroke-width="0.08" >+/+</text>
<text x="329.9" y="425.4" font-size="5.3" text-anchor="middle" font-weight="400" fill="#111" stroke="#111" stroke-width="0.08" >&#916;B/&#916;B</text>
<text x="311.15" y="434.2" font-size="5.3" text-anchor="middle" font-weight="400" fill="#111" stroke="#111" stroke-width="0.08" >12</text>
<text x="329.9" y="434.6" font-size="5.3" text-anchor="middle" font-weight="400" fill="#111" stroke="#111" stroke-width="0.08" >10</text>
<line x1="392" y1="332.2" x2="392" y2="406.4" stroke="#111" stroke-width="1.3" />
<line x1="389.4" y1="334.7" x2="392" y2="334.7" stroke="#111" stroke-width="0.9" />
<text x="385.6" y="336.6" font-size="5.3" text-anchor="end" font-weight="400" fill="#111" stroke="#111" stroke-width="0.08" >0.00008</text>
<line x1="389.4" y1="352.48" x2="392" y2="352.48" stroke="#111" stroke-width="0.9" />
<text x="385.6" y="354.38" font-size="5.3" text-anchor="end" font-weight="400" fill="#111" stroke="#111" stroke-width="0.08" >0.00006</text>
<line x1="389.4" y1="370.25" x2="392" y2="370.25" stroke="#111" stroke-width="0.9" />
<text x="385.6" y="372.15" font-size="5.3" text-anchor="end" font-weight="400" fill="#111" stroke="#111" stroke-width="0.08" >0.00004</text>
<line x1="389.4" y1="388.02" x2="392" y2="388.02" stroke="#111" stroke-width="0.9" />
<text x="385.6" y="389.92" font-size="5.3" text-anchor="end" font-weight="400" fill="#111" stroke="#111" stroke-width="0.08" >0.00002</text>
<line x1="389.4" y1="405.8" x2="392" y2="405.8" stroke="#111" stroke-width="0.9" />
<text x="385.6" y="407.7" font-size="5.3" text-anchor="end" font-weight="400" fill="#111" stroke="#111" stroke-width="0.08" >0.00000</text>
<line x1="391.4" y1="405.8" x2="428.5" y2="405.8" stroke="#111" stroke-width="1.3" />
<line x1="401.15" y1="405.8" x2="401.15" y2="408.6" stroke="#111" stroke-width="0.9" />
<line x1="401.15" y1="371.4" x2="401.15" y2="377.9" stroke="#3a3a3a" stroke-width="1.05" />
<line x1="401.15" y1="395.8" x2="401.15" y2="402.3" stroke="#3a3a3a" stroke-width="1.05" />
<line x1="398.05" y1="371.4" x2="404.25" y2="371.4" stroke="#222" stroke-width="1.1" />
<line x1="398.05" y1="402.3" x2="404.25" y2="402.3" stroke="#222" stroke-width="1.1" />
<rect x="394.4" y="377.9" width="13.5" height="17.9" fill="#a8002c" stroke="#8c0022" stroke-width="0.5"/>
<line x1="394.4" y1="392.1" x2="407.9" y2="392.1" stroke="#000" stroke-width="1.2" />
<line x1="419.9" y1="405.8" x2="419.9" y2="408.6" stroke="#111" stroke-width="0.9" />
<line x1="419.9" y1="396.5" x2="419.9" y2="397.7" stroke="#3a3a3a" stroke-width="1.05" />
<line x1="419.9" y1="405.6" x2="419.9" y2="405.6" stroke="#3a3a3a" stroke-width="1.05" />
<line x1="416.8" y1="396.5" x2="423" y2="396.5" stroke="#222" stroke-width="1.1" />
<line x1="416.8" y1="405.6" x2="423" y2="405.6" stroke="#222" stroke-width="1.1" />
<rect x="413.3" y="397.7" width="13.2" height="7.9" fill="#2f4b7c" stroke="#1f3a6a" stroke-width="0.5"/>
<line x1="413.3" y1="400" x2="426.5" y2="400" stroke="#000" stroke-width="1.2" />
<circle cx="401.1" cy="350.5" r="0.95" fill="#1c2f5e"/>
<circle cx="419.9" cy="376.7" r="0.95" fill="#1c2f5e"/>
<circle cx="419.9" cy="382.8" r="0.95" fill="#1c2f5e"/>
<text x="419.9" y="397.1" font-size="5.2" text-anchor="middle" font-weight="400" fill="#333" stroke="#333" stroke-width="0.08" >*</text>
<text x="410.3" y="327.6" font-size="7.2" text-anchor="middle" font-weight="400" fill="#111" stroke="#111" stroke-width="0.08" >CD80</text>
<text x="394" y="339.4" font-size="5.2" text-anchor="start" font-weight="400" fill="#111" stroke="#111" stroke-width="0.08" >P = 0.02</text>
<text transform="translate(360.2,368.7) rotate(-90)" font-size="6.6" text-anchor="middle" font-weight="400" fill="#111" stroke="#111" stroke-width="0.08" textLength="66.2" lengthAdjust="spacingAndGlyphs">mRNA relative expression</text>
<text x="367.3" y="416.1" font-size="5.3" text-anchor="start" font-weight="400" fill="#111" stroke="#111" stroke-width="0.08" >Tcl-1 tg</text>
<text x="367.3" y="425.4" font-size="5.3" text-anchor="start" font-weight="400" fill="#111" stroke="#111" stroke-width="0.08" >IRF4</text>
<text x="367.3" y="434.2" font-size="5.3" text-anchor="start" font-weight="400" fill="#111" stroke="#111" stroke-width="0.08" >N =</text>
<text x="401.15" y="416.1" font-size="5.3" text-anchor="middle" font-weight="400" fill="#111" stroke="#111" stroke-width="0.08" >+</text>
<text x="419.9" y="416.1" font-size="5.3" text-anchor="middle" font-weight="400" fill="#111" stroke="#111" stroke-width="0.08" >+</text>
<text x="401.15" y="425.4" font-size="5.3" text-anchor="middle" font-weight="400" fill="#111" stroke="#111" stroke-width="0.08" >+/+</text>
<text x="419.9" y="425.4" font-size="5.3" text-anchor="middle" font-weight="400" fill="#111" stroke="#111" stroke-width="0.08" >&#916;B/&#916;B</text>
<text x="401.15" y="434.2" font-size="5.3" text-anchor="middle" font-weight="400" fill="#111" stroke="#111" stroke-width="0.08" >12</text>
<text x="419.9" y="434.6" font-size="5.3" text-anchor="middle" font-weight="400" fill="#111" stroke="#111" stroke-width="0.08" >10</text>
<line x1="475.5" y1="332.2" x2="475.5" y2="406.4" stroke="#111" stroke-width="1.3" />
<line x1="472.9" y1="334.7" x2="475.5" y2="334.7" stroke="#111" stroke-width="0.9" />
<text x="469.1" y="336.6" font-size="5.3" text-anchor="end" font-weight="400" fill="#111" stroke="#111" stroke-width="0.08" >0.00020</text>
<line x1="472.9" y1="352.48" x2="475.5" y2="352.48" stroke="#111" stroke-width="0.9" />
<text x="469.1" y="354.38" font-size="5.3" text-anchor="end" font-weight="400" fill="#111" stroke="#111" stroke-width="0.08" >0.00015</text>
<line x1="472.9" y1="370.25" x2="475.5" y2="370.25" stroke="#111" stroke-width="0.9" />
<text x="469.1" y="372.15" font-size="5.3" text-anchor="end" font-weight="400" fill="#111" stroke="#111" stroke-width="0.08" >0.00010</text>
<line x1="472.9" y1="388.02" x2="475.5" y2="388.02" stroke="#111" stroke-width="0.9" />
<text x="469.1" y="389.92" font-size="5.3" text-anchor="end" font-weight="400" fill="#111" stroke="#111" stroke-width="0.08" >0.00005</text>
<line x1="472.9" y1="405.8" x2="475.5" y2="405.8" stroke="#111" stroke-width="0.9" />
<text x="469.1" y="407.7" font-size="5.3" text-anchor="end" font-weight="400" fill="#111" stroke="#111" stroke-width="0.08" >0.00000</text>
<line x1="474.9" y1="405.8" x2="512.8" y2="405.8" stroke="#111" stroke-width="1.3" />
<line x1="484.75" y1="405.8" x2="484.75" y2="408.6" stroke="#111" stroke-width="0.9" />
<line x1="484.75" y1="343.5" x2="484.75" y2="364.2" stroke="#3a3a3a" stroke-width="1.05" />
<line x1="484.75" y1="391.6" x2="484.75" y2="399.8" stroke="#3a3a3a" stroke-width="1.05" />
<line x1="481.65" y1="343.5" x2="487.85" y2="343.5" stroke="#222" stroke-width="1.1" />
<line x1="481.65" y1="399.8" x2="487.85" y2="399.8" stroke="#222" stroke-width="1.1" />
<rect x="478.1" y="364.2" width="13.3" height="27.4" fill="#a8002c" stroke="#8c0022" stroke-width="0.5"/>
<line x1="478.1" y1="376.7" x2="491.4" y2="376.7" stroke="#000" stroke-width="1.2" />
<line x1="503.5" y1="405.8" x2="503.5" y2="408.6" stroke="#111" stroke-width="0.9" />
<line x1="503.5" y1="390.7" x2="503.5" y2="393.7" stroke="#3a3a3a" stroke-width="1.05" />
<line x1="503.5" y1="403.5" x2="503.5" y2="405" stroke="#3a3a3a" stroke-width="1.05" />
<line x1="500.4" y1="390.7" x2="506.6" y2="390.7" stroke="#222" stroke-width="1.1" />
<line x1="500.4" y1="405" x2="506.6" y2="405" stroke="#222" stroke-width="1.1" />
<rect x="497" y="393.7" width="13" height="9.8" fill="#2f4b7c" stroke="#1f3a6a" stroke-width="0.5"/>
<line x1="497" y1="401.2" x2="510" y2="401.2" stroke="#000" stroke-width="1.2" />
<circle cx="503.2" cy="355.1" r="0.95" fill="#1c2f5e"/>
<text x="503.5" y="388.5" font-size="5.2" text-anchor="middle" font-weight="400" fill="#333" stroke="#333" stroke-width="0.08" >**</text>
<text x="494.2" y="327.6" font-size="7.2" text-anchor="middle" font-weight="400" fill="#111" stroke="#111" stroke-width="0.08" >CD86</text>
<text x="477.5" y="339.4" font-size="5.2" text-anchor="start" font-weight="400" fill="#111" stroke="#111" stroke-width="0.08" >P = 0.001</text>
<text transform="translate(444,365.8) rotate(-90)" font-size="6.6" text-anchor="middle" font-weight="400" fill="#111" stroke="#111" stroke-width="0.08" textLength="62.4" lengthAdjust="spacingAndGlyphs">mRNA relative expression</text>
<text x="451.2" y="416.1" font-size="5.3" text-anchor="start" font-weight="400" fill="#111" stroke="#111" stroke-width="0.08" >Tcl-1 tg</text>
<text x="451.2" y="425.4" font-size="5.3" text-anchor="start" font-weight="400" fill="#111" stroke="#111" stroke-width="0.08" >IRF4</text>
<text x="451.2" y="434.2" font-size="5.3" text-anchor="start" font-weight="400" fill="#111" stroke="#111" stroke-width="0.08" >N =</text>
<text x="484.75" y="416.1" font-size="5.3" text-anchor="middle" font-weight="400" fill="#111" stroke="#111" stroke-width="0.08" >+</text>
<text x="503.5" y="416.1" font-size="5.3" text-anchor="middle" font-weight="400" fill="#111" stroke="#111" stroke-width="0.08" >+</text>
<text x="484.75" y="425.4" font-size="5.3" text-anchor="middle" font-weight="400" fill="#111" stroke="#111" stroke-width="0.08" >+/+</text>
<text x="503.5" y="425.4" font-size="5.3" text-anchor="middle" font-weight="400" fill="#111" stroke="#111" stroke-width="0.08" >&#916;B/&#916;B</text>
<text x="484.75" y="434.2" font-size="5.3" text-anchor="middle" font-weight="400" fill="#111" stroke="#111" stroke-width="0.08" >12</text>
<text x="503.5" y="434.6" font-size="5.3" text-anchor="middle" font-weight="400" fill="#111" stroke="#111" stroke-width="0.08" >10</text>
</svg><div id="bd"></div></div></body></html>
